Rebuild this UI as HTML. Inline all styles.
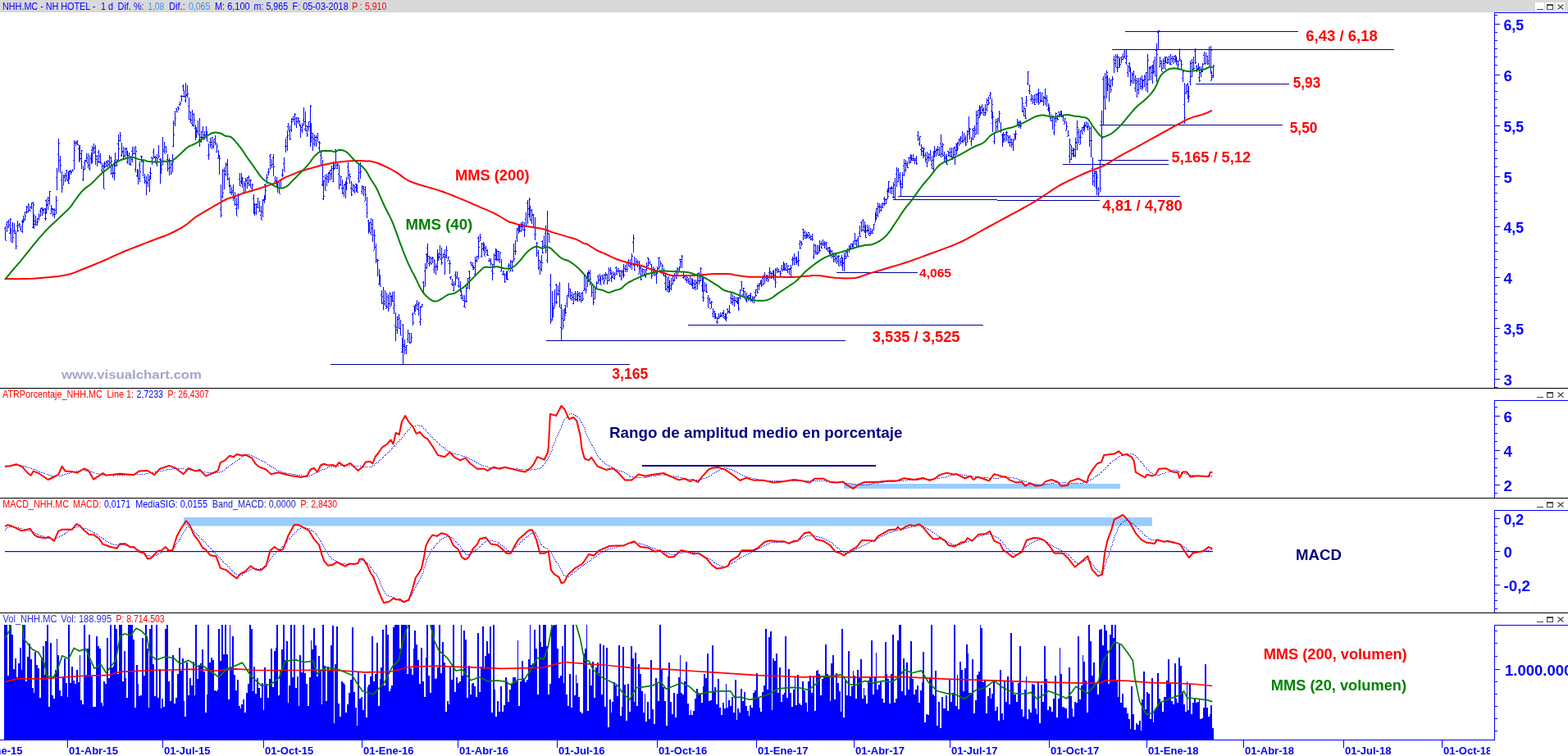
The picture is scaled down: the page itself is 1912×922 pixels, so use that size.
<!DOCTYPE html>
<html><head><meta charset="utf-8"><title>NHH.MC - NH HOTEL</title>
<style>
html,body{margin:0;padding:0;background:#fff;}
body{width:1912px;height:922px;overflow:hidden;position:relative;}
svg{position:absolute;left:0;top:0;display:block;}
text{font-family:"Liberation Sans",Arial,sans-serif;}
.hd{font-size:12px;}
.ax{font-size:18.5px;font-weight:bold;fill:#0000ff;}
.lb{font-size:18px;font-weight:bold;}
.dt{font-size:13px;font-weight:bold;fill:#0000ff;}
</style></head><body>
<svg width="1912" height="922" viewBox="0 0 1912 922">

<rect x="0" y="0" width="1912" height="14" fill="#d9d9d9"/>
<rect x="0" y="14" width="1822" height="1" fill="#d2d2d2"/><rect x="1822" y="14" width="90" height="1" fill="#e6e6d6"/>
<text x="3" y="12" class="hd" fill="#0000ff" textLength="113.5" lengthAdjust="spacingAndGlyphs">NHH.MC - NH HOTEL -</text>
<text x="123" y="12" class="hd" fill="#0000ff" textLength="15" lengthAdjust="spacingAndGlyphs">1 d</text>
<text x="143.6" y="12" class="hd" fill="#0000ff" textLength="32" lengthAdjust="spacingAndGlyphs">Dif. %:</text>
<text x="180.2" y="12" class="hd" fill="#3c96ec" textLength="20" lengthAdjust="spacingAndGlyphs">1,08</text>
<text x="206" y="12" class="hd" fill="#0000ff" textLength="19.8" lengthAdjust="spacingAndGlyphs">Dif.:</text>
<text x="230" y="12" class="hd" fill="#3c96ec" textLength="26.3" lengthAdjust="spacingAndGlyphs">0,065</text>
<text x="261.9" y="12" class="hd" fill="#0000ff" textLength="42.8" lengthAdjust="spacingAndGlyphs">M: 6,100</text>
<text x="309.6" y="12" class="hd" fill="#0000ff" textLength="41.5" lengthAdjust="spacingAndGlyphs">m: 5,965</text>
<text x="356.5" y="12" class="hd" fill="#0000ff" textLength="68.2" lengthAdjust="spacingAndGlyphs">F: 05-03-2018</text>
<text x="429.3" y="12" class="hd" fill="#ff0000" textLength="42" lengthAdjust="spacingAndGlyphs">P : 5,910</text>
<g fill="#fff"><rect x="1872" y="3" width="11" height="10"/><rect x="1884" y="3" width="11" height="10"/><rect x="1897" y="3" width="11" height="10"/></g>
<g fill="none" stroke="#454545" stroke-width="1" shape-rendering="crispEdges"><path d="M1874 11.5h8"/><rect x="1886.5" y="5.5" width="7" height="6"/><path d="M1886 6.5h8"/></g><path d="M1899.5 5.5l7 6M1906.5 5.5l-7 6" stroke="#454545" stroke-width="1.2" fill="none"/>
<g fill="none" stroke="#454545" stroke-width="1" shape-rendering="crispEdges"><path d="M1874 484.5h8"/><rect x="1886.5" y="478.5" width="7" height="6"/><path d="M1886 479.5h8"/></g><path d="M1899.5 478.5l7 6M1906.5 478.5l-7 6" stroke="#454545" stroke-width="1.2" fill="none"/>
<g fill="none" stroke="#454545" stroke-width="1" shape-rendering="crispEdges"><path d="M1874 618.5h8"/><rect x="1886.5" y="612.5" width="7" height="6"/><path d="M1886 613.5h8"/></g><path d="M1899.5 612.5l7 6M1906.5 612.5l-7 6" stroke="#454545" stroke-width="1.2" fill="none"/>
<g fill="none" stroke="#454545" stroke-width="1" shape-rendering="crispEdges"><path d="M1874 758.5h8"/><rect x="1886.5" y="752.5" width="7" height="6"/><path d="M1886 753.5h8"/></g><path d="M1899.5 752.5l7 6M1906.5 752.5l-7 6" stroke="#454545" stroke-width="1.2" fill="none"/>
<g fill="#000" shape-rendering="crispEdges"><rect x="0" y="473" width="1912" height="1"/><rect x="0" y="607" width="1912" height="1"/><rect x="0" y="747" width="1912" height="1"/></g>
<g fill="#0000ff" shape-rendering="crispEdges"><rect x="1822" y="15" width="90" height="1"/><rect x="1822" y="15" width="1" height="458"/><rect x="1822" y="472" width="4" height="1"/><rect x="1822" y="488" width="90" height="1"/><rect x="1822" y="488" width="1" height="119"/><rect x="1822" y="622" width="90" height="1"/><rect x="1822" y="622" width="1" height="125"/><rect x="1822" y="762" width="90" height="1"/><rect x="1822" y="762" width="1" height="141"/><rect x="0" y="902" width="1823" height="1"/></g>
<path d="M1822 29.5h7M1822 91.5h7M1822 153.5h7M1822 215.5h7M1822 276.5h7M1822 338.5h7M1822 400.5h7M1822 462.5h7M1822 18.5h4M1822 39.5h4M1822 49.5h4M1822 59.5h4M1822 69.5h4M1822 79.5h4M1822 101.5h4M1822 111.5h4M1822 121.5h4M1822 131.5h4M1822 141.5h4M1822 163.5h4M1822 173.5h4M1822 183.5h4M1822 193.5h4M1822 203.5h4M1822 225.5h4M1822 235.5h4M1822 245.5h4M1822 255.5h4M1822 265.5h4M1822 286.5h4M1822 296.5h4M1822 306.5h4M1822 316.5h4M1822 326.5h4M1822 348.5h4M1822 358.5h4M1822 368.5h4M1822 378.5h4M1822 388.5h4M1822 410.5h4M1822 420.5h4M1822 430.5h4M1822 440.5h4M1822 450.5h4M1822 472.5h4M1822 507.5h7M1822 549.5h7M1822 591.5h7M1822 496.5h4M1822 517.5h4M1822 528.5h4M1822 538.5h4M1822 559.5h4M1822 570.5h4M1822 580.5h4M1822 601.5h4M1822 632.5h7M1822 672.5h7M1822 713.5h7M1822 642.5h4M1822 652.5h4M1822 662.5h4M1822 682.5h4M1822 692.5h4M1822 702.5h4M1822 723.5h4M1822 732.5h4M1822 742.5h4M1822 816.5h7M1822 769.5h4M1822 784.5h4M1822 800.5h4M1822 831.5h4M1822 846.5h4M1822 861.5h4M1822 876.5h4M1822 891.5h4" stroke="#0000ff" stroke-width="1" fill="none" shape-rendering="crispEdges"/>
<text x="1833.5" y="36.6" class="ax" textLength="24.6" lengthAdjust="spacingAndGlyphs">6,5</text>
<text x="1833.5" y="98.6" class="ax" textLength="10.4" lengthAdjust="spacingAndGlyphs">6</text>
<text x="1833.5" y="160.6" class="ax" textLength="24.6" lengthAdjust="spacingAndGlyphs">5,5</text>
<text x="1833.5" y="222.6" class="ax" textLength="10.4" lengthAdjust="spacingAndGlyphs">5</text>
<text x="1833.5" y="283.6" class="ax" textLength="24.6" lengthAdjust="spacingAndGlyphs">4,5</text>
<text x="1833.5" y="345.6" class="ax" textLength="10.4" lengthAdjust="spacingAndGlyphs">4</text>
<text x="1833.5" y="407.6" class="ax" textLength="24.6" lengthAdjust="spacingAndGlyphs">3,5</text>
<text x="1833.5" y="469.6" class="ax" textLength="10.4" lengthAdjust="spacingAndGlyphs">3</text>
<text x="1833.5" y="514.6" class="ax" textLength="10.4" lengthAdjust="spacingAndGlyphs">6</text>
<text x="1833.5" y="556.6" class="ax" textLength="10.4" lengthAdjust="spacingAndGlyphs">4</text>
<text x="1833.5" y="598.6" class="ax" textLength="10.4" lengthAdjust="spacingAndGlyphs">2</text>
<text x="1833.5" y="639.6" class="ax" textLength="24.6" lengthAdjust="spacingAndGlyphs">0,2</text>
<text x="1833.5" y="679.6" class="ax" textLength="10.4" lengthAdjust="spacingAndGlyphs">0</text>
<text x="1833.5" y="720.6" class="ax" textLength="32.6" lengthAdjust="spacingAndGlyphs">-0,2</text>
<text class="ax" x="1835" y="823.5">1.000.000</text>
<g fill="#000096" shape-rendering="crispEdges"><rect x="1372" y="38" width="211" height="1"/><rect x="1356" y="60" width="344" height="1"/><rect x="1458" y="102" width="114" height="1"/><rect x="1341" y="152" width="223" height="1"/><rect x="1339" y="195" width="86" height="1"/><rect x="1296" y="200" width="129" height="1"/><rect x="1095" y="239" width="344" height="1"/><rect x="1089" y="243" width="127" height="1"/><rect x="1216" y="244" width="125" height="1"/><rect x="1020" y="332" width="99" height="1"/><rect x="839" y="396" width="360" height="1"/><rect x="666" y="415" width="365" height="1"/><rect x="403" y="444" width="365" height="1"/></g>
<path d="M6.5 276v17M5 278.5h1M7 293.5h1M8.5 270v13M7 273.5h1M9 270.5h1M10.5 268v10M9 276.5h1M11 274.5h1M12.5 266v19M11 284.5h1M13 267.5h1M13.5 278v17M12 279.5h1M14 295.5h1M15.5 271v25M14 274.5h1M16 289.5h1M17.5 272v13M16 281.5h1M18 281.5h1M19.5 282v22M18 284.5h1M20 300.5h1M21.5 269v14M20 275.5h1M22 281.5h1M23.5 272v6M22 274.5h1M24 273.5h1M25.5 275v7M24 279.5h1M26 282.5h1M27.5 268v16M26 270.5h1M28 271.5h1M28.5 263v8M27 270.5h1M29 269.5h1M30.5 258v11M29 267.5h1M31 263.5h1M32.5 251v10M31 258.5h1M33 252.5h1M34.5 248v11M33 258.5h1M35 249.5h1M36.5 251v6M35 256.5h1M37 257.5h1M38.5 247v8M37 252.5h1M39 247.5h1M40.5 246v32M39 277.5h1M41 249.5h1M41.5 261v18M40 273.5h1M42 273.5h1M43.5 263v12M42 269.5h1M44 271.5h1M45.5 266v9M44 274.5h1M46 270.5h1M47.5 260v9M46 266.5h1M48 263.5h1M49.5 254v10M48 257.5h1M50 254.5h1M51.5 253v10M50 253.5h1M52 255.5h1M53.5 254v7M52 256.5h1M54 254.5h1M55.5 254v15M54 266.5h1M56 266.5h1M56.5 243v18M55 244.5h1M57 249.5h1M58.5 240v16M57 250.5h1M59 241.5h1M60.5 233v17M59 244.5h1M61 233.5h1M62.5 250v11M61 260.5h1M63 254.5h1M64.5 254v10M63 255.5h1M65 261.5h1M66.5 254v12M65 255.5h1M67 256.5h1M68.5 239v22M67 261.5h1M69 244.5h1M69.5 205v27M68 216.5h1M70 209.5h1M71.5 169v40M70 188.5h1M72 174.5h1M73.5 190v21M72 195.5h1M74 201.5h1M75.5 209v26M74 219.5h1M76 229.5h1M77.5 213v13M76 226.5h1M78 216.5h1M79.5 211v11M78 214.5h1M80 214.5h1M81.5 207v13M80 207.5h1M82 219.5h1M83.5 209v15M82 220.5h1M84 223.5h1M84.5 208v11M83 213.5h1M85 209.5h1M86.5 207v6M85 208.5h1M87 210.5h1M88.5 206v3M87 209.5h1M89 208.5h1M90.5 171v36M89 195.5h1M91 183.5h1M92.5 172v6M91 174.5h1M93 172.5h1M94.5 171v6M93 174.5h1M95 176.5h1M96.5 177v21M95 181.5h1M97 177.5h1M97.5 178v18M96 182.5h1M98 193.5h1M99.5 183v23M98 187.5h1M100 183.5h1M101.5 202v19M100 218.5h1M102 206.5h1M103.5 195v12M102 198.5h1M104 195.5h1M105.5 187v11M104 196.5h1M106 192.5h1M107.5 187v18M106 198.5h1M108 201.5h1M109.5 189v19M108 205.5h1M110 193.5h1M111.5 186v14M110 193.5h1M112 198.5h1M112.5 178v21M111 183.5h1M113 182.5h1M114.5 175v13M113 180.5h1M115 185.5h1M116.5 177v24M115 180.5h1M117 194.5h1M118.5 189v14M117 190.5h1M119 197.5h1M120.5 183v16M119 185.5h1M121 197.5h1M122.5 187v13M121 190.5h1M123 198.5h1M124.5 199v11M123 207.5h1M125 202.5h1M126.5 201v29M125 209.5h1M127 230.5h1M127.5 197v8M126 199.5h1M128 203.5h1M129.5 196v7M128 199.5h1M130 202.5h1M131.5 195v9M130 197.5h1M132 200.5h1M133.5 189v15M132 196.5h1M134 192.5h1M135.5 191v22M134 198.5h1M136 196.5h1M137.5 200v17M136 211.5h1M138 210.5h1M139.5 197v23M138 211.5h1M140 211.5h1M140.5 186v17M139 195.5h1M141 202.5h1M142.5 194v9M141 197.5h1M143 195.5h1M144.5 164v31M143 175.5h1M145 181.5h1M146.5 161v12M145 171.5h1M147 165.5h1M148.5 174v17M147 189.5h1M149 184.5h1M150.5 179v14M149 185.5h1M151 193.5h1M152.5 180v12M151 190.5h1M153 181.5h1M154.5 180v10M153 181.5h1M155 184.5h1M155.5 184v16M154 197.5h1M156 192.5h1M157.5 186v15M156 189.5h1M158 191.5h1M159.5 190v12M158 200.5h1M160 194.5h1M161.5 179v19M160 184.5h1M162 187.5h1M163.5 179v9M162 187.5h1M164 187.5h1M165.5 178v32M164 206.5h1M166 184.5h1M167.5 206v10M166 214.5h1M168 212.5h1M168.5 207v18M167 214.5h1M169 217.5h1M170.5 197v25M169 201.5h1M171 209.5h1M172.5 190v8M171 190.5h1M173 191.5h1M174.5 195v20M173 196.5h1M175 197.5h1M176.5 212v12M175 216.5h1M177 221.5h1M178.5 215v23M177 220.5h1M179 223.5h1M180.5 212v16M179 222.5h1M181 219.5h1M182.5 214v20M181 219.5h1M183 214.5h1M183.5 204v15M182 210.5h1M184 211.5h1M185.5 191v10M184 192.5h1M186 193.5h1M187.5 181v12M186 185.5h1M188 191.5h1M189.5 190v9M188 192.5h1M190 199.5h1M191.5 188v15M190 192.5h1M192 197.5h1M193.5 177v16M192 193.5h1M194 190.5h1M195.5 193v31M194 194.5h1M196 207.5h1M196.5 194v18M195 197.5h1M197 206.5h1M198.5 167v34M197 201.5h1M199 182.5h1M200.5 173v14M199 184.5h1M201 187.5h1M202.5 178v8M201 179.5h1M203 185.5h1M204.5 188v21M203 194.5h1M205 195.5h1M206.5 193v21M205 205.5h1M207 195.5h1M208.5 198v15M207 204.5h1M209 200.5h1M210.5 188v22M209 210.5h1M211 197.5h1M211.5 147v32M210 178.5h1M212 164.5h1M213.5 135v19M212 150.5h1M214 144.5h1M215.5 132v5M214 132.5h1M216 136.5h1M217.5 130v5M216 130.5h1M218 132.5h1M219.5 124v5M218 127.5h1M220 126.5h1M221.5 116v8M220 117.5h1M222 117.5h1M223.5 103v8M222 105.5h1M224 111.5h1M224.5 110v9M223 117.5h1M225 117.5h1M226.5 101v24M225 122.5h1M227 115.5h1M228.5 104v15M227 116.5h1M229 114.5h1M230.5 119v27M229 129.5h1M231 145.5h1M232.5 136v14M231 136.5h1M233 150.5h1M234.5 134v20M233 146.5h1M235 152.5h1M236.5 138v17M235 139.5h1M237 146.5h1M238.5 152v19M237 156.5h1M239 159.5h1M239.5 155v13M238 167.5h1M240 160.5h1M241.5 147v17M240 159.5h1M242 164.5h1M243.5 144v35M242 170.5h1M244 172.5h1M245.5 160v14M244 167.5h1M246 160.5h1M247.5 154v16M246 167.5h1M248 164.5h1M249.5 160v10M248 170.5h1M250 164.5h1M251.5 154v12M250 164.5h1M252 160.5h1M252.5 160v12M251 168.5h1M253 172.5h1M254.5 175v20M253 189.5h1M255 188.5h1M256.5 168v12M255 173.5h1M257 176.5h1M258.5 167v15M257 173.5h1M259 167.5h1M260.5 170v11M259 178.5h1M261 173.5h1M262.5 165v12M261 169.5h1M263 174.5h1M264.5 175v11M263 185.5h1M265 178.5h1M266.5 183v10M265 193.5h1M267 190.5h1M267.5 189v24M266 189.5h1M268 193.5h1M269.5 225v40M268 255.5h1M270 262.5h1M271.5 206v36M270 239.5h1M272 235.5h1M273.5 204v27M272 208.5h1M274 208.5h1M275.5 198v17M274 212.5h1M276 200.5h1M277.5 194v26M276 201.5h1M278 212.5h1M279.5 216v12M278 218.5h1M280 226.5h1M280.5 225v11M279 226.5h1M281 226.5h1M282.5 228v10M281 234.5h1M283 232.5h1M284.5 225v20M283 234.5h1M285 239.5h1M286.5 234v17M285 241.5h1M287 249.5h1M288.5 241v22M287 254.5h1M289 263.5h1M290.5 236v19M289 249.5h1M291 238.5h1M292.5 211v16M291 218.5h1M293 226.5h1M294.5 211v13M293 221.5h1M295 217.5h1M295.5 216v13M294 224.5h1M296 217.5h1M297.5 221v13M296 234.5h1M298 224.5h1M299.5 217v17M298 226.5h1M300 220.5h1M301.5 216v14M300 219.5h1M302 223.5h1M303.5 214v13M302 216.5h1M304 220.5h1M305.5 219v10M304 225.5h1M306 219.5h1M307.5 224v10M306 229.5h1M308 225.5h1M309.5 237v23M308 242.5h1M310 257.5h1M310.5 248v15M309 260.5h1M311 259.5h1M312.5 248v14M311 249.5h1M313 252.5h1M314.5 241v13M313 249.5h1M315 253.5h1M316.5 245v13M315 258.5h1M317 257.5h1M318.5 251v17M317 262.5h1M319 268.5h1M320.5 243v22M319 258.5h1M321 243.5h1M322.5 238v10M321 244.5h1M323 238.5h1M323.5 224v20M322 225.5h1M324 232.5h1M325.5 212v12M324 217.5h1M326 216.5h1M327.5 205v9M326 210.5h1M328 209.5h1M329.5 188v19M328 190.5h1M330 188.5h1M331.5 194v11M330 201.5h1M332 200.5h1M333.5 188v27M332 192.5h1M334 203.5h1M335.5 215v6M334 221.5h1M336 220.5h1M337.5 216v10M336 221.5h1M338 223.5h1M338.5 223v12M337 226.5h1M339 229.5h1M340.5 221v15M339 222.5h1M341 236.5h1M342.5 218v11M341 219.5h1M343 219.5h1M344.5 206v10M343 213.5h1M345 213.5h1M346.5 192v17M345 199.5h1M347 209.5h1M348.5 169v17M347 178.5h1M349 178.5h1M350.5 159v25M349 167.5h1M351 165.5h1M351.5 150v9M350 154.5h1M352 159.5h1M353.5 153v18M352 160.5h1M354 169.5h1M355.5 144v17M354 158.5h1M356 145.5h1M357.5 142v6M356 148.5h1M358 145.5h1M359.5 138v15M358 141.5h1M360 139.5h1M361.5 143v13M360 144.5h1M362 148.5h1M363.5 143v8M362 143.5h1M364 144.5h1M365.5 147v7M364 147.5h1M366 152.5h1M366.5 152v16M365 153.5h1M367 158.5h1M368.5 150v12M367 155.5h1M369 152.5h1M370.5 131v22M369 146.5h1M371 148.5h1M372.5 136v24M371 157.5h1M373 153.5h1M374.5 153v14M373 159.5h1M375 164.5h1M376.5 148v12M375 154.5h1M377 148.5h1M378.5 128v51M377 154.5h1M379 129.5h1M379.5 150v24M378 156.5h1M380 162.5h1M381.5 162v22M380 167.5h1M382 175.5h1M383.5 164v14M382 169.5h1M384 171.5h1M385.5 165v14M384 167.5h1M386 175.5h1M387.5 162v11M386 167.5h1M388 173.5h1M389.5 172v13M388 180.5h1M390 174.5h1M391.5 183v18M390 189.5h1M392 192.5h1M393.5 195v32M392 225.5h1M394 215.5h1M394.5 220v24M393 242.5h1M395 239.5h1M396.5 213v19M395 220.5h1M397 232.5h1M398.5 212v15M397 217.5h1M399 218.5h1M400.5 210v13M399 215.5h1M401 211.5h1M402.5 207v13M401 210.5h1M403 207.5h1M404.5 202v17M403 212.5h1M405 205.5h1M406.5 197v25M405 221.5h1M407 206.5h1M407.5 200v6M406 203.5h1M408 205.5h1M409.5 182v23M408 182.5h1M410 201.5h1M411.5 198v8M410 205.5h1M412 200.5h1M413.5 201v30M412 212.5h1M414 214.5h1M415.5 215v12M414 225.5h1M416 215.5h1M417.5 219v18M416 229.5h1M418 235.5h1M419.5 225v15M418 229.5h1M420 225.5h1M421.5 221v21M420 224.5h1M422 227.5h1M422.5 216v16M421 221.5h1M423 223.5h1M424.5 198v21M423 203.5h1M425 208.5h1M426.5 211v13M425 213.5h1M427 215.5h1M428.5 221v18M427 229.5h1M429 237.5h1M430.5 224v10M429 230.5h1M431 226.5h1M432.5 226v10M431 232.5h1M433 228.5h1M434.5 224v10M433 224.5h1M435 234.5h1M435.5 225v9M434 233.5h1M436 234.5h1M437.5 200v23M436 217.5h1M438 220.5h1M439.5 198v20M438 210.5h1M440 209.5h1M441.5 226v11M440 233.5h1M442 229.5h1M443.5 227v12M442 227.5h1M444 231.5h1M445.5 227v18M444 245.5h1M446 237.5h1M447.5 240v26M446 249.5h1M448 259.5h1M449.5 268v17M448 269.5h1M450 272.5h1M450.5 271v12M449 271.5h1M451 271.5h1M452.5 266v21M451 283.5h1M453 273.5h1M454.5 267v28M453 278.5h1M455 286.5h1M456.5 280v25M455 305.5h1M457 287.5h1M458.5 297v24M457 301.5h1M459 318.5h1M460.5 316v21M459 316.5h1M461 317.5h1M462.5 328v19M461 346.5h1M463 342.5h1M463.5 335v14M462 337.5h1M464 349.5h1M465.5 354v17M464 359.5h1M466 361.5h1M467.5 350v28M466 369.5h1M468 367.5h1M469.5 354v19M468 370.5h1M470 373.5h1M471.5 357v19M470 376.5h1M472 362.5h1M473.5 359v21M472 374.5h1M474 376.5h1M475.5 356v19M474 370.5h1M476 358.5h1M477.5 360v13M476 361.5h1M478 364.5h1M478.5 356v12M477 367.5h1M479 367.5h1M480.5 355v28M479 375.5h1M481 372.5h1M482.5 381v35M481 397.5h1M483 399.5h1M484.5 386v21M483 402.5h1M485 386.5h1M486.5 383v18M485 389.5h1M487 388.5h1M488.5 390v19M487 400.5h1M489 409.5h1M490.5 412v18M489 429.5h1M491 427.5h1M491.5 395v50M490 396.5h1M492 422.5h1M493.5 414v18M492 420.5h1M494 426.5h1M495.5 421v11M494 423.5h1M496 421.5h1M497.5 402v16M496 413.5h1M498 406.5h1M499.5 406v13M498 406.5h1M500 417.5h1M501.5 406v12M500 418.5h1M502 411.5h1M503.5 381v16M502 383.5h1M504 393.5h1M505.5 373v10M504 373.5h1M506 383.5h1M506.5 371v9M505 378.5h1M507 372.5h1M508.5 366v12M507 370.5h1M509 371.5h1M510.5 368v17M509 377.5h1M511 369.5h1M512.5 373v24M511 392.5h1M513 389.5h1M514.5 371v4M513 374.5h1M515 371.5h1M516.5 343v16M515 344.5h1M517 349.5h1M518.5 321v28M517 330.5h1M519 326.5h1M520.5 309v19M519 310.5h1M521 309.5h1M521.5 297v23M520 302.5h1M522 312.5h1M523.5 312v13M522 321.5h1M524 314.5h1M525.5 313v10M524 320.5h1M526 315.5h1M527.5 313v8M526 321.5h1M528 314.5h1M529.5 316v17M528 328.5h1M530 318.5h1M531.5 321v14M530 325.5h1M532 325.5h1M533.5 304v26M532 324.5h1M534 311.5h1M534.5 309v9M533 318.5h1M535 309.5h1M536.5 299v17M535 313.5h1M537 316.5h1M538.5 302v21M537 310.5h1M539 320.5h1M540.5 309v5M539 314.5h1M541 310.5h1M542.5 304v31M541 313.5h1M543 313.5h1M544.5 300v15M543 311.5h1M545 305.5h1M546.5 313v5M545 318.5h1M547 313.5h1M548.5 317v17M547 321.5h1M549 321.5h1M549.5 337v4M548 338.5h1M550 337.5h1M551.5 340v9M550 346.5h1M552 347.5h1M553.5 343v12M552 354.5h1M554 346.5h1M555.5 331v17M554 335.5h1M556 339.5h1M557.5 331v9M556 337.5h1M558 340.5h1M559.5 338v13M558 348.5h1M560 349.5h1M561.5 343v13M560 352.5h1M562 356.5h1M562.5 354v11M561 360.5h1M563 359.5h1M564.5 360v7M563 363.5h1M565 366.5h1M566.5 360v15M565 373.5h1M567 375.5h1M568.5 346v23M567 367.5h1M569 367.5h1M570.5 339v13M569 351.5h1M571 339.5h1M572.5 330v23M571 331.5h1M573 338.5h1M574.5 319v5M573 320.5h1M575 323.5h1M576.5 320v7M575 323.5h1M577 327.5h1M577.5 324v5M576 328.5h1M578 326.5h1M579.5 313v22M578 334.5h1M580 318.5h1M581.5 312v8M580 317.5h1M582 312.5h1M583.5 288v28M582 290.5h1M584 301.5h1M585.5 285v9M584 294.5h1M586 289.5h1M587.5 296v18M586 312.5h1M588 303.5h1M589.5 295v11M588 297.5h1M590 297.5h1M590.5 297v15M589 303.5h1M591 312.5h1M592.5 300v9M591 302.5h1M593 305.5h1M594.5 304v8M593 310.5h1M595 311.5h1M596.5 315v4M595 318.5h1M597 317.5h1M598.5 315v9M597 319.5h1M599 321.5h1M600.5 322v20M599 330.5h1M601 333.5h1M602.5 309v18M601 322.5h1M603 311.5h1M604.5 303v13M603 316.5h1M605 309.5h1M605.5 304v14M604 316.5h1M606 306.5h1M607.5 306v13M606 316.5h1M608 306.5h1M609.5 307v14M608 316.5h1M610 308.5h1M611.5 316v15M610 330.5h1M612 327.5h1M613.5 330v6M612 334.5h1M614 331.5h1M615.5 333v12M614 334.5h1M616 343.5h1M617.5 331v10M616 335.5h1M618 334.5h1M618.5 330v12M617 337.5h1M619 340.5h1M620.5 321v9M619 324.5h1M621 323.5h1M622.5 317v14M621 331.5h1M623 319.5h1M624.5 317v14M623 326.5h1M625 330.5h1M626.5 297v22M625 319.5h1M627 315.5h1M628.5 293v18M627 306.5h1M629 306.5h1M630.5 278v17M629 289.5h1M631 278.5h1M632.5 275v10M631 280.5h1M633 276.5h1M633.5 273v10M632 273.5h1M634 276.5h1M635.5 271v12M634 281.5h1M636 276.5h1M637.5 270v11M636 273.5h1M638 274.5h1M639.5 271v18M638 280.5h1M640 280.5h1M641.5 259v16M640 267.5h1M642 275.5h1M643.5 244v29M642 247.5h1M644 254.5h1M645.5 241v24M644 261.5h1M646 243.5h1M646.5 251v18M645 263.5h1M647 268.5h1M648.5 255v18M647 256.5h1M649 261.5h1M650.5 261v16M649 262.5h1M651 277.5h1M652.5 265v28M651 285.5h1M653 286.5h1M654.5 295v18M653 301.5h1M655 296.5h1M656.5 305v24M655 308.5h1M657 326.5h1M658.5 317v18M657 317.5h1M659 328.5h1M660.5 311v20M659 319.5h1M661 320.5h1M661.5 293v16M660 294.5h1M662 308.5h1M663.5 287v16M662 300.5h1M664 299.5h1M665.5 275v34M664 284.5h1M666 305.5h1M667.5 257v64M666 317.5h1M668 284.5h1M669.5 285v10M668 285.5h1M670 295.5h1M671.5 334v61M670 347.5h1M672 389.5h1M673.5 355v36M672 391.5h1M674 370.5h1M674.5 372v15M673 383.5h1M675 376.5h1M676.5 353v22M675 375.5h1M677 368.5h1M678.5 346v25M677 347.5h1M679 368.5h1M680.5 348v13M679 358.5h1M681 358.5h1M682.5 344v31M681 354.5h1M683 375.5h1M684.5 371v44M683 399.5h1M685 401.5h1M686.5 377v24M685 388.5h1M687 397.5h1M688.5 376v15M687 390.5h1M689 384.5h1M689.5 372v11M688 372.5h1M690 381.5h1M691.5 360v15M690 370.5h1M692 360.5h1M693.5 345v18M692 358.5h1M694 352.5h1M695.5 352v13M694 355.5h1M696 364.5h1M697.5 356v11M696 360.5h1M698 362.5h1M699.5 358v13M698 370.5h1M700 358.5h1M701.5 355v12M700 364.5h1M702 357.5h1M703.5 358v9M702 365.5h1M704 363.5h1M704.5 355v13M703 361.5h1M705 358.5h1M706.5 356v11M705 360.5h1M707 365.5h1M708.5 357v12M707 361.5h1M709 366.5h1M710.5 356v11M709 357.5h1M711 364.5h1M712.5 336v19M711 354.5h1M713 352.5h1M714.5 337v21M713 352.5h1M715 353.5h1M716.5 333v17M715 338.5h1M717 342.5h1M717.5 330v14M716 332.5h1M718 333.5h1M719.5 329v19M718 332.5h1M720 340.5h1M721.5 345v17M720 345.5h1M722 356.5h1M723.5 350v22M722 356.5h1M724 368.5h1M725.5 352v13M724 364.5h1M726 356.5h1M727.5 343v9M726 352.5h1M728 345.5h1M729.5 335v11M728 337.5h1M730 341.5h1M731.5 334v10M730 341.5h1M732 341.5h1M732.5 337v10M731 346.5h1M733 347.5h1M734.5 335v7M733 336.5h1M735 339.5h1M736.5 334v13M735 344.5h1M737 342.5h1M738.5 332v9M737 335.5h1M739 335.5h1M740.5 334v13M739 334.5h1M741 342.5h1M742.5 326v17M741 342.5h1M743 341.5h1M744.5 326v9M743 329.5h1M745 330.5h1M745.5 332v12M744 339.5h1M746 337.5h1M747.5 331v8M746 338.5h1M748 334.5h1M749.5 332v9M748 339.5h1M750 335.5h1M751.5 325v10M750 326.5h1M752 334.5h1M753.5 327v6M752 330.5h1M754 327.5h1M755.5 329v9M754 330.5h1M756 336.5h1M757.5 329v13M756 330.5h1M758 339.5h1M759.5 329v8M758 331.5h1M760 336.5h1M760.5 322v17M759 330.5h1M761 335.5h1M762.5 323v9M761 327.5h1M763 328.5h1M764.5 321v11M763 328.5h1M765 328.5h1M766.5 316v9M765 319.5h1M767 324.5h1M768.5 317v10M767 320.5h1M769 322.5h1M770.5 309v20M769 316.5h1M771 312.5h1M772.5 286v22M771 295.5h1M773 290.5h1M773.5 313v17M772 323.5h1M774 329.5h1M775.5 315v8M774 323.5h1M776 319.5h1M777.5 317v9M776 323.5h1M778 320.5h1M779.5 318v16M778 334.5h1M780 325.5h1M781.5 325v17M780 327.5h1M782 340.5h1M783.5 327v9M782 330.5h1M784 336.5h1M785.5 328v9M784 328.5h1M786 336.5h1M787.5 328v11M786 335.5h1M788 329.5h1M788.5 320v10M787 330.5h1M789 324.5h1M790.5 314v11M789 314.5h1M791 316.5h1M792.5 318v4M791 320.5h1M793 322.5h1M794.5 322v18M793 333.5h1M795 329.5h1M796.5 325v11M795 336.5h1M797 331.5h1M798.5 327v10M797 328.5h1M799 334.5h1M800.5 330v16M799 334.5h1M801 330.5h1M801.5 325v9M800 334.5h1M802 327.5h1M803.5 314v15M802 314.5h1M804 314.5h1M805.5 318v7M804 325.5h1M806 321.5h1M807.5 322v11M806 333.5h1M808 324.5h1M809.5 327v10M808 334.5h1M810 336.5h1M811.5 333v21M810 345.5h1M812 337.5h1M813.5 338v18M812 352.5h1M814 350.5h1M815.5 337v20M814 349.5h1M816 350.5h1M816.5 342v14M815 342.5h1M817 348.5h1M818.5 339v15M817 351.5h1M819 346.5h1M820.5 337v10M819 346.5h1M821 342.5h1M822.5 333v10M821 341.5h1M823 335.5h1M824.5 329v11M823 335.5h1M825 339.5h1M826.5 326v9M825 327.5h1M827 331.5h1M828.5 325v6M827 328.5h1M829 331.5h1M829.5 316v11M828 316.5h1M830 316.5h1M831.5 311v16M830 319.5h1M832 312.5h1M833.5 332v8M832 338.5h1M834 335.5h1M835.5 335v7M834 337.5h1M836 336.5h1M837.5 337v8M836 341.5h1M838 338.5h1M839.5 339v7M838 341.5h1M840 346.5h1M841.5 337v10M840 343.5h1M842 346.5h1M843.5 339v9M842 346.5h1M844 348.5h1M844.5 340v12M843 348.5h1M845 351.5h1M846.5 341v12M845 345.5h1M847 350.5h1M848.5 341v13M847 346.5h1M849 344.5h1M850.5 333v20M849 345.5h1M851 333.5h1M852.5 332v15M851 342.5h1M853 342.5h1M854.5 326v17M853 335.5h1M855 327.5h1M856.5 334v22M855 348.5h1M857 355.5h1M857.5 339v29M856 362.5h1M858 363.5h1M859.5 344v11M858 354.5h1M860 355.5h1M861.5 346v11M860 348.5h1M862 356.5h1M863.5 360v15M862 363.5h1M864 375.5h1M865.5 363v8M864 365.5h1M866 369.5h1M867.5 367v9M866 376.5h1M868 368.5h1M869.5 376v11M868 382.5h1M870 380.5h1M871.5 379v8M870 386.5h1M872 386.5h1M872.5 382v7M871 388.5h1M873 387.5h1M874.5 386v9M873 392.5h1M875 393.5h1M876.5 382v7M875 388.5h1M877 385.5h1M878.5 381v6M877 387.5h1M879 385.5h1M880.5 381v6M879 384.5h1M881 381.5h1M882.5 378v10M881 382.5h1M883 386.5h1M884.5 382v8M883 388.5h1M885 390.5h1M885.5 382v10M884 389.5h1M886 387.5h1M887.5 376v7M886 377.5h1M888 379.5h1M889.5 372v10M888 380.5h1M890 381.5h1M891.5 357v14M890 363.5h1M892 364.5h1M893.5 359v13M892 368.5h1M894 364.5h1M895.5 361v13M894 366.5h1M896 366.5h1M897.5 362v7M896 366.5h1M898 367.5h1M899.5 362v9M898 368.5h1M900 364.5h1M900.5 363v16M899 369.5h1M901 376.5h1M902.5 353v12M901 362.5h1M903 354.5h1M904.5 343v11M903 343.5h1M905 354.5h1M906.5 351v10M905 359.5h1M907 351.5h1M908.5 355v10M907 355.5h1M909 365.5h1M910.5 357v12M909 366.5h1M911 361.5h1M912.5 360v7M911 362.5h1M913 363.5h1M914.5 359v7M913 360.5h1M915 359.5h1M915.5 357v11M914 364.5h1M916 366.5h1M917.5 361v8M916 366.5h1M918 363.5h1M919.5 361v9M918 365.5h1M920 362.5h1M921.5 353v9M920 356.5h1M922 360.5h1M923.5 347v11M922 353.5h1M924 356.5h1M925.5 345v9M924 348.5h1M926 348.5h1M927.5 342v5M926 346.5h1M928 343.5h1M928.5 341v9M927 345.5h1M929 347.5h1M930.5 336v12M929 339.5h1M931 346.5h1M932.5 332v14M931 336.5h1M933 338.5h1M934.5 335v8M933 338.5h1M935 336.5h1M936.5 335v9M935 339.5h1M937 341.5h1M938.5 326v14M937 332.5h1M939 331.5h1M940.5 332v8M939 333.5h1M941 338.5h1M942.5 330v9M941 333.5h1M943 337.5h1M943.5 329v12M942 334.5h1M944 341.5h1M945.5 327v24M944 335.5h1M946 344.5h1M947.5 326v7M946 329.5h1M948 328.5h1M949.5 328v4M948 331.5h1M950 331.5h1M951.5 330v7M950 337.5h1M952 333.5h1M953.5 323v8M952 327.5h1M954 330.5h1M955.5 319v11M954 328.5h1M956 327.5h1M956.5 321v9M955 322.5h1M957 329.5h1M958.5 321v9M957 327.5h1M959 321.5h1M960.5 323v10M959 329.5h1M961 324.5h1M962.5 327v8M961 328.5h1M963 328.5h1M964.5 323v14M963 327.5h1M965 326.5h1M966.5 313v11M965 316.5h1M967 317.5h1M968.5 309v14M967 315.5h1M969 322.5h1M970.5 313v8M969 315.5h1M971 317.5h1M971.5 313v10M970 318.5h1M972 319.5h1M973.5 306v19M972 318.5h1M974 317.5h1M975.5 293v11M974 297.5h1M976 302.5h1M977.5 294v6M976 295.5h1M978 297.5h1M979.5 279v14M978 279.5h1M980 287.5h1M981.5 281v10M980 283.5h1M982 290.5h1M983.5 283v8M982 287.5h1M984 289.5h1M984.5 285v5M983 290.5h1M985 287.5h1M986.5 283v8M985 283.5h1M987 286.5h1M988.5 287v6M987 289.5h1M989 288.5h1M990.5 285v9M989 291.5h1M991 291.5h1M992.5 297v19M991 313.5h1M993 299.5h1M994.5 298v12M993 306.5h1M995 309.5h1M996.5 299v12M995 307.5h1M997 299.5h1M998.5 300v9M997 308.5h1M999 302.5h1M999.5 293v14M998 306.5h1M1000 305.5h1M1001.5 294v9M1000 297.5h1M1002 302.5h1M1003.5 292v8M1002 297.5h1M1004 298.5h1M1005.5 294v9M1004 296.5h1M1006 296.5h1M1007.5 295v10M1006 298.5h1M1008 295.5h1M1009.5 301v6M1008 303.5h1M1010 302.5h1M1011.5 301v9M1010 306.5h1M1012 302.5h1M1012.5 304v9M1011 306.5h1M1013 306.5h1M1014.5 305v10M1013 306.5h1M1015 309.5h1M1016.5 308v12M1015 312.5h1M1017 312.5h1M1018.5 309v11M1017 316.5h1M1019 310.5h1M1020.5 311v11M1019 315.5h1M1021 313.5h1M1022.5 311v13M1021 318.5h1M1023 312.5h1M1024.5 315v9M1023 324.5h1M1025 319.5h1M1026.5 311v14M1025 314.5h1M1027 323.5h1M1027.5 314v16M1026 322.5h1M1028 321.5h1M1029.5 308v23M1028 320.5h1M1030 312.5h1M1031.5 305v11M1030 315.5h1M1032 313.5h1M1033.5 303v10M1032 307.5h1M1034 312.5h1M1035.5 299v9M1034 304.5h1M1036 302.5h1M1037.5 297v7M1036 300.5h1M1038 297.5h1M1039.5 297v6M1038 303.5h1M1040 302.5h1M1040.5 294v7M1039 297.5h1M1041 301.5h1M1042.5 284v14M1041 293.5h1M1043 293.5h1M1044.5 292v9M1043 298.5h1M1045 293.5h1M1046.5 288v13M1045 291.5h1M1047 299.5h1M1048.5 275v14M1047 284.5h1M1049 288.5h1M1050.5 270v13M1049 271.5h1M1051 280.5h1M1052.5 267v15M1051 269.5h1M1053 281.5h1M1054.5 270v14M1053 276.5h1M1055 274.5h1M1055.5 274v16M1054 280.5h1M1056 289.5h1M1057.5 274v10M1056 281.5h1M1058 280.5h1M1059.5 275v12M1058 281.5h1M1060 284.5h1M1061.5 278v9M1060 287.5h1M1062 282.5h1M1063.5 279v6M1062 284.5h1M1064 284.5h1M1065.5 273v8M1064 281.5h1M1066 273.5h1M1067.5 260v11M1066 271.5h1M1068 261.5h1M1068.5 254v14M1067 259.5h1M1069 262.5h1M1070.5 247v18M1069 254.5h1M1071 252.5h1M1072.5 248v12M1071 251.5h1M1073 252.5h1M1074.5 249v9M1073 256.5h1M1075 252.5h1M1076.5 247v7M1075 248.5h1M1077 248.5h1M1078.5 240v11M1077 242.5h1M1079 248.5h1M1080.5 242v7M1079 243.5h1M1081 243.5h1M1082.5 230v13M1081 233.5h1M1083 239.5h1M1083.5 221v14M1082 230.5h1M1084 221.5h1M1085.5 229v7M1084 229.5h1M1086 229.5h1M1087.5 227v10M1086 228.5h1M1088 229.5h1M1089.5 222v20M1088 240.5h1M1090 225.5h1M1091.5 217v26M1090 240.5h1M1092 243.5h1M1093.5 204v24M1092 212.5h1M1094 207.5h1M1095.5 205v17M1094 221.5h1M1096 216.5h1M1097.5 210v16M1096 213.5h1M1098 221.5h1M1098.5 220v19M1097 227.5h1M1099 228.5h1M1100.5 210v20M1099 224.5h1M1101 213.5h1M1102.5 194v21M1101 202.5h1M1103 199.5h1M1104.5 195v15M1103 207.5h1M1105 199.5h1M1106.5 197v8M1105 201.5h1M1107 204.5h1M1108.5 192v8M1107 192.5h1M1109 192.5h1M1110.5 188v11M1109 197.5h1M1111 194.5h1M1111.5 189v7M1110 196.5h1M1112 195.5h1M1113.5 188v8M1112 193.5h1M1114 193.5h1M1115.5 193v7M1114 195.5h1M1116 193.5h1M1117.5 190v11M1116 195.5h1M1118 199.5h1M1119.5 160v12M1118 165.5h1M1120 169.5h1M1121.5 166v12M1120 175.5h1M1122 166.5h1M1123.5 176v14M1122 182.5h1M1124 180.5h1M1125.5 179v12M1124 184.5h1M1126 188.5h1M1126.5 181v11M1125 192.5h1M1127 181.5h1M1128.5 186v12M1127 189.5h1M1129 198.5h1M1130.5 185v19M1129 194.5h1M1131 192.5h1M1132.5 187v10M1131 191.5h1M1133 192.5h1M1134.5 183v13M1133 188.5h1M1135 196.5h1M1136.5 190v16M1135 200.5h1M1137 205.5h1M1138.5 184v26M1137 195.5h1M1139 188.5h1M1139.5 178v14M1138 185.5h1M1140 184.5h1M1141.5 181v10M1140 185.5h1M1142 183.5h1M1143.5 178v11M1142 182.5h1M1144 189.5h1M1145.5 179v11M1144 182.5h1M1146 188.5h1M1147.5 164v28M1146 175.5h1M1148 178.5h1M1149.5 174v17M1148 187.5h1M1150 176.5h1M1151.5 185v12M1150 189.5h1M1152 193.5h1M1153.5 188v10M1152 191.5h1M1154 188.5h1M1154.5 190v11M1153 198.5h1M1155 200.5h1M1156.5 184v7M1155 184.5h1M1157 186.5h1M1158.5 180v12M1157 189.5h1M1159 185.5h1M1160.5 180v14M1159 190.5h1M1161 194.5h1M1162.5 180v12M1161 191.5h1M1163 180.5h1M1164.5 178v23M1163 188.5h1M1165 183.5h1M1166.5 175v14M1165 175.5h1M1167 176.5h1M1167.5 173v11M1166 177.5h1M1168 180.5h1M1169.5 169v9M1168 174.5h1M1170 169.5h1M1171.5 166v10M1170 171.5h1M1172 168.5h1M1173.5 160v14M1172 172.5h1M1174 173.5h1M1175.5 162v11M1174 171.5h1M1176 170.5h1M1177.5 165v13M1176 168.5h1M1178 176.5h1M1179.5 159v15M1178 174.5h1M1180 160.5h1M1181.5 142v22M1180 164.5h1M1182 156.5h1M1182.5 157v13M1181 161.5h1M1183 157.5h1M1184.5 167v11M1183 172.5h1M1185 169.5h1M1186.5 156v15M1185 158.5h1M1187 156.5h1M1188.5 153v15M1187 159.5h1M1189 158.5h1M1190.5 135v29M1189 163.5h1M1191 140.5h1M1192.5 134v30M1191 150.5h1M1193 134.5h1M1194.5 128v16M1193 143.5h1M1195 134.5h1M1195.5 130v11M1194 135.5h1M1196 130.5h1M1197.5 127v12M1196 137.5h1M1198 133.5h1M1199.5 131v10M1198 134.5h1M1200 140.5h1M1201.5 127v14M1200 137.5h1M1202 137.5h1M1203.5 120v16M1202 133.5h1M1204 127.5h1M1205.5 118v10M1204 122.5h1M1206 125.5h1M1207.5 112v9M1206 116.5h1M1208 114.5h1M1209.5 120v25M1208 135.5h1M1210 127.5h1M1210.5 136v25M1209 150.5h1M1211 142.5h1M1212.5 161v15M1211 172.5h1M1213 162.5h1M1214.5 145v16M1213 149.5h1M1215 154.5h1M1216.5 144v15M1215 148.5h1M1217 144.5h1M1218.5 135v15M1217 146.5h1M1219 138.5h1M1220.5 149v13M1219 159.5h1M1221 159.5h1M1222.5 163v16M1221 164.5h1M1223 170.5h1M1223.5 161v13M1222 163.5h1M1224 169.5h1M1225.5 163v10M1224 164.5h1M1226 163.5h1M1227.5 160v12M1226 161.5h1M1228 161.5h1M1229.5 165v10M1228 165.5h1M1230 167.5h1M1231.5 165v14M1230 173.5h1M1232 173.5h1M1233.5 169v11M1232 170.5h1M1234 174.5h1M1235.5 169v15M1234 176.5h1M1236 171.5h1M1237.5 163v8M1236 163.5h1M1238 166.5h1M1238.5 159v11M1237 164.5h1M1239 163.5h1M1240.5 145v8M1239 153.5h1M1241 149.5h1M1242.5 147v9M1241 151.5h1M1243 153.5h1M1244.5 147v10M1243 149.5h1M1245 153.5h1M1246.5 119v18M1245 119.5h1M1247 126.5h1M1248.5 129v13M1247 135.5h1M1249 132.5h1M1250.5 132v13M1249 141.5h1M1251 144.5h1M1251.5 117v13M1250 125.5h1M1252 122.5h1M1253.5 87v17M1252 101.5h1M1254 87.5h1M1255.5 103v12M1254 110.5h1M1256 111.5h1M1257.5 115v9M1256 121.5h1M1258 120.5h1M1259.5 116v10M1258 126.5h1M1260 121.5h1M1261.5 115v13M1260 124.5h1M1262 127.5h1M1263.5 114v11M1262 121.5h1M1264 125.5h1M1265.5 113v11M1264 115.5h1M1266 114.5h1M1266.5 108v20M1265 124.5h1M1267 113.5h1M1268.5 112v13M1267 125.5h1M1269 122.5h1M1270.5 113v11M1269 123.5h1M1271 113.5h1M1272.5 117v12M1271 123.5h1M1273 118.5h1M1274.5 108v20M1273 119.5h1M1275 119.5h1M1276.5 116v14M1275 120.5h1M1277 122.5h1M1278.5 126v9M1277 133.5h1M1279 128.5h1M1279.5 130v12M1278 135.5h1M1280 137.5h1M1281.5 139v9M1280 144.5h1M1282 147.5h1M1283.5 141v17M1282 147.5h1M1284 141.5h1M1285.5 144v21M1284 161.5h1M1286 152.5h1M1287.5 137v13M1286 144.5h1M1288 138.5h1M1289.5 140v7M1288 144.5h1M1290 145.5h1M1291.5 136v7M1290 136.5h1M1292 140.5h1M1293.5 135v7M1292 139.5h1M1294 140.5h1M1294.5 135v8M1293 138.5h1M1295 140.5h1M1296.5 141v7M1295 142.5h1M1297 148.5h1M1298.5 144v7M1297 151.5h1M1299 144.5h1M1300.5 148v11M1299 159.5h1M1301 154.5h1M1302.5 159v7M1301 166.5h1M1303 165.5h1M1304.5 169v30M1303 190.5h1M1305 176.5h1M1306.5 177v18M1305 194.5h1M1307 187.5h1M1308.5 180v11M1307 183.5h1M1309 181.5h1M1309.5 181v11M1308 188.5h1M1310 182.5h1M1311.5 168v24M1310 189.5h1M1312 174.5h1M1313.5 147v36M1312 173.5h1M1314 155.5h1M1315.5 157v18M1314 161.5h1M1316 167.5h1M1317.5 159v17M1316 176.5h1M1318 167.5h1M1319.5 155v8M1318 159.5h1M1320 163.5h1M1321.5 154v6M1320 155.5h1M1322 160.5h1M1322.5 149v10M1321 153.5h1M1323 152.5h1M1324.5 148v7M1323 153.5h1M1325 155.5h1M1326.5 149v10M1325 154.5h1M1327 152.5h1M1328.5 154v25M1327 154.5h1M1329 171.5h1M1330.5 154v38M1329 156.5h1M1331 171.5h1M1332.5 192v34M1331 205.5h1M1333 221.5h1M1334.5 208v20M1333 214.5h1M1335 209.5h1M1336.5 208v22M1335 211.5h1M1337 209.5h1M1337.5 211v27M1336 226.5h1M1338 216.5h1M1339.5 228v12M1338 230.5h1M1340 235.5h1M1341.5 195v39M1340 208.5h1M1342 229.5h1M1343.5 135v61M1342 148.5h1M1344 168.5h1M1345.5 93v59M1344 96.5h1M1346 119.5h1M1347.5 89v45M1346 117.5h1M1348 132.5h1M1349.5 86v34M1348 94.5h1M1350 88.5h1M1350.5 92v19M1349 110.5h1M1351 102.5h1M1352.5 95v29M1351 103.5h1M1353 105.5h1M1354.5 97v16M1353 104.5h1M1355 109.5h1M1356.5 93v12M1355 97.5h1M1357 96.5h1M1358.5 68v21M1357 72.5h1M1359 73.5h1M1360.5 66v16M1359 77.5h1M1361 69.5h1M1362.5 66v22M1361 82.5h1M1363 82.5h1M1364.5 69v14M1363 69.5h1M1365 81.5h1M1365.5 71v10M1364 74.5h1M1366 78.5h1M1367.5 69v8M1366 70.5h1M1368 72.5h1M1369.5 65v8M1368 68.5h1M1370 69.5h1M1371.5 61v10M1370 63.5h1M1372 71.5h1M1373.5 61v18M1372 76.5h1M1374 68.5h1M1375.5 79v15M1374 88.5h1M1376 81.5h1M1377.5 76v12M1376 77.5h1M1378 88.5h1M1378.5 82v23M1377 83.5h1M1379 98.5h1M1380.5 88v14M1379 99.5h1M1381 90.5h1M1382.5 86v16M1381 91.5h1M1383 97.5h1M1384.5 92v20M1383 107.5h1M1385 101.5h1M1386.5 95v24M1385 98.5h1M1387 99.5h1M1388.5 95v20M1387 109.5h1M1389 102.5h1M1390.5 94v15M1389 102.5h1M1391 105.5h1M1392.5 92v18M1391 96.5h1M1393 99.5h1M1393.5 97v11M1392 98.5h1M1394 97.5h1M1395.5 91v15M1394 98.5h1M1396 93.5h1M1397.5 88v23M1396 96.5h1M1398 88.5h1M1399.5 66v47M1398 102.5h1M1400 73.5h1M1401.5 81v17M1400 97.5h1M1402 82.5h1M1403.5 80v18M1402 83.5h1M1404 81.5h1M1405.5 79v23M1404 88.5h1M1406 89.5h1M1406.5 74v15M1405 84.5h1M1407 87.5h1M1408.5 69v24M1407 73.5h1M1409 92.5h1M1410.5 53v47M1409 61.5h1M1411 66.5h1M1412.5 37v24M1411 39.5h1M1413 37.5h1M1414.5 69v13M1413 81.5h1M1415 74.5h1M1416.5 74v13M1415 77.5h1M1417 87.5h1M1418.5 71v13M1417 83.5h1M1419 77.5h1M1420.5 69v15M1419 74.5h1M1421 84.5h1M1421.5 69v8M1420 73.5h1M1422 69.5h1M1423.5 70v8M1422 76.5h1M1424 76.5h1M1425.5 68v9M1424 72.5h1M1426 77.5h1M1427.5 66v13M1426 78.5h1M1428 78.5h1M1429.5 68v8M1428 71.5h1M1430 71.5h1M1431.5 68v9M1430 77.5h1M1432 68.5h1M1433.5 67v9M1432 72.5h1M1434 73.5h1M1434.5 69v10M1433 74.5h1M1435 79.5h1M1436.5 74v11M1435 74.5h1M1437 78.5h1M1438.5 59v15M1437 74.5h1M1439 72.5h1M1440.5 73v13M1439 74.5h1M1441 78.5h1M1442.5 85v15M1441 95.5h1M1443 87.5h1M1444.5 101v50M1443 127.5h1M1445 143.5h1M1446.5 103v12M1445 113.5h1M1447 103.5h1M1448.5 101v20M1447 111.5h1M1449 105.5h1M1449.5 105v19M1448 124.5h1M1450 117.5h1M1451.5 74v30M1450 99.5h1M1452 93.5h1M1453.5 72v22M1452 77.5h1M1454 84.5h1M1455.5 69v16M1454 76.5h1M1456 83.5h1M1457.5 59v19M1456 62.5h1M1458 76.5h1M1459.5 79v9M1458 81.5h1M1460 83.5h1M1461.5 77v8M1460 84.5h1M1462 81.5h1M1462.5 82v18M1461 94.5h1M1463 98.5h1M1464.5 81v13M1463 88.5h1M1465 86.5h1M1466.5 77v11M1465 87.5h1M1467 78.5h1M1468.5 63v15M1467 67.5h1M1469 77.5h1M1470.5 64v14M1469 78.5h1M1471 68.5h1M1472.5 68v11M1471 68.5h1M1473 74.5h1M1474.5 57v24M1473 77.5h1M1475 81.5h1M1476.5 56v34M1475 82.5h1M1477 61.5h1M1477.5 87v11M1476 98.5h1M1478 92.5h1M1479.5 79v16M1478 94.5h1M1480 80.5h1" stroke="#0000ff" stroke-width="1" fill="none" shape-rendering="crispEdges"/>
<polyline points="6,340 12,340.1 20.5,340.2 30.3,340.1 40,339.8 50,339.1 60.9,338.1 71.2,336.9 80,335.5 86.4,334 91.2,332.4 95.5,330.5 100.4,328.5 106.2,326.2 112.4,323.8 118.7,321.2 125,318.5 131.1,315.8 137.1,313 143.5,310.1 150.6,307 159,303.6 168.4,300 177.7,296.4 185.8,293.3 192.4,290.8 198.1,288.7 203.3,286.7 208.4,284.5 213.5,282 218.3,279.4 222.8,276.8 226.9,274.2 230.1,271.8 232.7,269.5 235.3,267.2 238.6,264.7 243.2,261.8 248.5,258.7 253.7,255.6 258.1,253.1 261.2,251.2 263.6,249.8 265.7,248.6 267.9,247.3 270.3,246 272.8,244.7 275.2,243.5 277.6,242.4 280,241.5 282.5,240.7 285,239.9 287.4,239.1 289.8,238.2 292.2,237.3 294.7,236.4 297.1,235.6 299.5,234.8 302,234.1 304.5,233.3 306.9,232.6 309.3,231.9 311.8,231.2 314.2,230.5 316.6,229.8 319,229 321.5,228.1 323.9,227.3 326.4,226.4 328.9,225.6 331.3,224.8 333.8,224 336.2,223 338.6,221.7 341,220.3 343.5,218.8 345.9,217.4 348.3,216.2 350.8,215.1 353.2,214.1 355.7,213.1 358.2,212.1 360.6,211.1 363.1,210.1 365.5,209.2 367.7,208.5 369.7,207.8 372.1,207.2 375.2,206.3 379.4,205.1 384.4,203.7 389.7,202.3 394.8,201 399.7,199.9 404.6,199 409.4,198.2 414.3,197.5 419.3,197 424.3,196.6 429.2,196.3 433.8,196.1 438.4,196.1 442.9,196.2 446.9,196.4 450,196.5 451.6,196.6 452.1,196.6 452.5,196.7 453.5,197 455.3,197.4 457.4,197.9 460,198.7 463.3,200 467.6,202 472.8,204.4 478,207.2 482.8,209.8 486.7,212.4 490.2,215.1 493.7,217.7 497.4,220 501.4,221.8 505.5,223.3 509.9,224.7 514.9,226.2 520.6,227.9 526.9,229.7 533.4,231.6 539.8,233.7 546.2,236.1 552.7,238.7 559,241.3 564.7,243.7 569.5,245.7 573.8,247.5 577.8,249.3 582.2,251.2 587.1,253.3 592.2,255.4 597.3,257.6 602.2,259.9 607.2,262.6 612.2,265.5 616.6,268.2 620,270.2 621.6,271 622,271.1 622.1,270.9 623,271.1 625,271.7 627.6,272.5 630.3,273.4 633,274.1 635.5,274.7 638,275.2 640.5,275.7 643,276.1 645.5,276.5 648,276.9 650.6,277.3 653.1,277.7 655.6,278.1 658.1,278.5 660.6,278.9 663.1,279.5 665.6,280.3 668.1,281.2 670.6,282.2 673.1,283.1 675.6,283.9 678.1,284.6 680.6,285.4 683.1,286.1 685.6,286.9 688.1,287.6 690.7,288.4 693.2,289.1 695.7,289.8 698.3,290.5 700.8,291.2 703.2,292.1 705.6,293.3 708,294.7 710.2,296 712,296.9 713.2,297.3 714,297.2 714.6,297.2 715.5,297.4 716.6,298 717.8,298.8 719.1,299.8 720.7,300.8 722.6,302 724.8,303.4 727.2,304.8 729.4,306 731.6,307 733.7,307.8 735.8,308.6 738,309.5 740.2,310.6 742.3,311.7 744.5,312.8 746.7,313.9 748.9,314.8 751.1,315.7 753.2,316.5 755.4,317.3 757.6,318 759.8,318.7 761.9,319.3 764.1,319.9 766.3,320.5 768.5,321.1 770.6,321.6 772.8,322.1 775,322.5 777.1,322.9 779.2,323.3 781.4,323.8 783.6,324.5 785.7,325.3 787.9,326.1 790.1,326.9 792.2,327.7 794.3,328.4 796.5,329.1 798.8,329.9 801.3,330.7 804,331.4 806.8,332.2 809.5,333 812,333.8 814.4,334.7 817,335.5 820,336 823.6,336.2 827.6,336.2 831.8,336.1 836,336 840.3,336 844.8,335.9 849.3,335.8 853.4,335.6 856.9,335.3 860,334.9 863.3,334.5 867.3,334.2 872.7,334.1 879,334 885.1,334.1 889.9,334.2 892.5,334.4 893.7,334.8 894.7,335.2 896.8,335.6 900.4,336.1 904.7,336.7 909.4,337.3 914,337.7 918.4,337.8 922.7,337.8 927.1,337.7 931.5,337.7 935.9,337.7 940.2,337.7 944.6,337.7 948.9,337.7 953.2,337.8 957.4,337.9 961.7,338 966,338 970.5,337.8 975,337.5 979.4,337.1 983.6,336.8 987.1,336.5 990.3,336.1 993.5,335.9 997.5,336 1002.4,336.5 1007.9,337.4 1013.7,338.3 1019.5,338.9 1025.5,339.2 1031.6,339.4 1037.6,339.3 1043,338.9 1047.4,338 1051.1,336.8 1054.6,335.4 1058.6,334 1063.2,332.6 1068,331.2 1073,329.7 1078,328.2 1082.9,326.8 1087.9,325.3 1092.8,323.9 1097.7,322.4 1102.6,320.8 1107.6,319.2 1112.4,317.5 1117,315.9 1121.2,314.4 1125,312.9 1128.8,311.5 1132.8,310 1136.9,308.5 1141.1,307 1145.5,305.4 1150.3,303.6 1155.5,301.6 1161.1,299.6 1166.9,297.2 1173,294.5 1179.4,291.2 1186.2,287.4 1193.1,283.5 1200,279.7 1206.7,276 1213.5,272.4 1220.2,268.7 1227,265 1234.1,261.2 1241.3,257.3 1248.2,253.5 1254.5,250 1259.8,246.9 1264.3,244.1 1268.6,241.3 1273,238.5 1277.6,235.5 1282.2,232.4 1286.8,229.3 1291.4,226.5 1296,224 1300.6,221.7 1305.2,219.5 1309.8,217.3 1314.4,215.1 1319,213 1323.6,211 1328.2,209 1332.8,207.2 1337.5,205.5 1342.1,203.8 1346.7,201.7 1351.2,199.2 1355.6,196.4 1360.2,193.5 1365,190.6 1370.4,187.7 1376.1,184.6 1381.8,181.6 1387,178.9 1391.5,176.5 1395.5,174.2 1399.3,172.1 1403.2,169.9 1407.3,167.7 1411.3,165.5 1415.4,163.2 1419.5,161 1423.6,158.7 1427.6,156.5 1431.6,154.2 1435.7,152 1439.8,149.8 1443.8,147.7 1447.9,145.7 1452,143.9 1456.2,142.4 1460.6,141.2 1464.7,140.1 1468.3,139 1471.4,137.8 1474.2,136.5 1476.4,135.4 1478,134.6" fill="none" stroke="#ff0000" stroke-width="2" stroke-linejoin="round"/>
<polyline points="6,341 7.9,338.7 10.6,335.4 13.6,331.7 16.3,328.5 18.1,326.4 19.5,324.9 21.5,322.6 25.1,318.4 30.9,311.2 38.3,301.9 46.3,292.1 54,283.3 61.7,275.4 69.8,267.9 77.2,261.1 82.9,255.7 86.1,252.2 87.6,250.3 88.5,248.7 90,246.5 92.4,243.2 95.2,239.4 98,235.7 100.8,232.4 103.5,229.9 106.2,227.9 109,226 111.7,223.8 114.4,221.2 117.1,218.4 119.8,215.5 122.5,212.9 125.2,210.5 128,208.3 130.7,206.2 133.4,204.2 136.1,202.1 138.8,200.1 141.5,198.2 144.2,196.6 147,195.3 149.9,194.3 152.7,193.5 155.1,192.8 157,192.3 158.6,191.9 160.1,191.8 161.6,191.8 163.2,192.1 164.7,192.7 166.3,193.3 168.1,193.9 170.2,194.4 172.7,194.8 175,195.2 176.8,195.6 177.8,195.9 178.3,196.2 178.9,196.5 180,196.7 182,197 184.5,197.2 187.2,197.4 189.8,197.5 192.2,197.4 194.7,197.2 197.1,196.9 199.5,196.7 201.9,196.7 204.4,196.9 206.8,196.8 209.3,196.2 211.8,194.8 214.2,192.9 216.7,190.8 219.1,188.6 221.5,186.3 223.9,183.9 226.4,181.6 228.8,179.6 231.2,178.1 233.7,177.1 236.1,176 238.6,174.8 241.1,173.3 243.5,171.6 246,169.8 248.4,168.2 250.9,166.6 253.6,165 256,163.6 258.1,162.5 259.6,161.9 260.7,161.7 261.7,161.6 263,161.7 264.7,161.8 266.5,162.1 268.4,162.5 270,163 271.3,163.6 272.4,164.4 273.4,165.2 274.7,165.8 276.3,166.1 278,166.2 279.8,166.4 281.5,167.1 283.2,168.4 284.9,170 286.5,171.9 288.2,173.8 289.9,175.7 291.5,177.8 293.2,179.9 294.9,182.2 296.5,184.6 298.1,187 299.8,189.6 301.6,192.3 303.6,195.1 305.7,198.1 307.9,201.1 310.1,204.1 312.2,207.2 314.4,210.4 316.5,213.4 318.5,215.9 320.3,217.9 322.1,219.5 323.7,220.7 325.2,221.8 326.5,222.6 327.7,223 328.9,223.4 330,223.9 331.1,224.6 332.2,225.4 333.3,226.2 334.6,226.9 336.2,227.7 337.9,228.5 339.7,229.2 341.4,229.6 343,229.6 344.5,229.4 346,229 347.5,228.4 348.9,227.6 350.3,226.7 351.6,225.7 352.8,224.6 353.8,223.6 354.6,222.7 355.6,221.6 357,220.1 359.1,218 361.6,215.6 364.2,212.9 366.8,210.3 369.3,207.7 371.8,205.1 374.2,202.4 376.5,199.8 378.7,197 380.7,194.2 382.7,191.5 384.7,189.2 386.7,187.5 388.6,186.1 390.7,185.1 392.8,184.3 395.2,183.9 397.8,183.8 400.3,183.9 402.6,184 404.5,184.3 406.2,184.7 407.7,185 409.1,185.1 410.4,184.6 411.5,183.8 412.6,183 414,182.7 415.8,182.9 417.9,183.3 420.1,184.1 422.1,185.1 423.8,186.4 425.5,188.1 427,189.9 428.6,191.6 430.2,193.3 431.9,195 433.5,196.6 435.1,198.1 436.8,199.4 438.4,200.5 440.1,201.7 441.6,203 443,204.5 444.4,206 445.7,207.7 447,209.5 448.1,211.3 449.2,213.2 450.3,215.3 451.6,217.7 453.3,220.3 455.1,223 457.2,226.2 459.3,230 461.6,234.8 464,240.3 466.5,246.1 468.9,251.5 471.3,256.3 473.6,260.8 476,265.4 478.4,270.6 480.8,276.7 483.2,283.4 485.6,290.2 488,296.8 490.4,303 492.7,309.2 495.1,315.1 497.5,320.7 500,325.9 502.4,330.9 504.9,335.5 507.1,339.8 509,343.9 510.8,347.6 512.5,351.1 514.2,354.1 516,356.7 517.8,358.9 519.6,360.8 521.4,362.5 523.2,364.1 525.1,365.4 526.8,366.5 528.5,367.2 530,367.6 531.3,367.6 532.6,367.3 534,366.9 535.6,366.2 537.2,365.2 538.9,364.1 540.5,363 542.1,362 543.8,360.9 545.4,359.9 547,359.1 548.6,358.7 550.2,358.5 551.9,358.2 553.5,357.8 555.1,357 556.8,356.1 558.4,355 560,353.9 561.6,352.8 563.2,351.8 564.9,350.6 566.5,349.3 568.1,347.8 569.8,346.2 571.4,344.5 573,342.8 574.6,341.2 576.2,339.6 577.9,337.9 579.5,336.3 581.2,334.6 582.8,332.9 584.5,331.2 586,329.8 587.3,328.6 588.5,327.4 589.7,326.5 591.2,325.9 593,325.6 594.9,325.7 597,325.9 599,325.9 601,325.7 602.9,325.5 604.8,325.3 606.8,325.3 608.7,325.7 610.6,326.3 612.5,326.8 614.6,327.2 616.8,327.4 619.2,327.4 621.6,327.2 624,326.5 626.3,325.2 628.5,323.6 630.7,321.5 633,319.2 635.4,316.4 637.9,313.1 640.5,309.9 643,307.2 645.6,305 648.2,303.1 650.7,301.6 653.1,300.7 655.2,300.7 657.2,301.4 659.1,302.2 661.1,302.7 663.1,302.4 665.1,301.8 667.1,301.3 669.1,301.5 671.1,302.6 673.1,304.3 675.1,306.3 677.1,308.2 679.1,310 681.1,311.9 683.1,313.7 685.1,315.2 687.1,316.1 689,316.7 691,317.3 693.2,318.2 695.6,319.6 698.2,321.3 700.7,323.2 703.2,325.2 705.5,327.3 707.8,329.7 710,332 712,334.3 713.8,336.4 715.5,338.4 717.1,340.4 718.9,342.5 720.8,344.9 722.8,347.4 724.8,349.8 726.8,351.6 728.8,352.6 730.7,353.1 732.7,353.4 734.6,353.8 736.6,354.6 738.6,355.6 740.6,356.4 742.4,356.8 744,356.6 745.4,356.1 746.8,355.4 748.5,354.7 750.5,354.1 752.7,353.6 755,352.9 757.1,352 758.9,350.7 760.6,349.1 762.3,347.5 764.1,346 766.2,344.7 768.4,343.5 770.6,342.3 772.8,341.2 775,340.1 777.3,339.1 779.4,338.2 781.4,337.3 783.1,336.5 784.6,335.9 786,335.3 787.5,334.7 789.2,334.2 790.9,333.8 792.7,333.4 794.5,333 796.4,332.5 798.5,332.1 800.4,331.6 802,331.2 802.9,330.9 803.3,330.6 803.9,330.4 805.4,330.3 808.2,330.4 811.8,330.5 815.9,330.8 820,331 824.4,331.2 829.2,331.4 833.8,331.6 837.8,332 840.9,332.6 843.5,333.3 845.8,334.2 848.2,335 850.8,335.8 853.4,336.6 856,337.4 858.6,338.5 861.3,339.9 864,341.5 866.6,343.1 869,344.6 871,345.8 872.7,346.9 874.3,347.9 876,349 877.7,350.3 879.3,351.6 881,352.9 883,354 885.3,354.8 887.9,355.5 890.6,356.1 893.3,356.8 895.9,357.8 898.5,358.9 901.1,360 903.8,361 906.3,362 908.9,362.9 911.4,363.8 914,364.6 916.6,365.3 919.3,365.9 922,366.4 924.6,366.7 927.3,366.8 930,366.7 932.6,366.4 935,366 937,365.4 938.7,364.7 940.3,363.8 942,362.8 943.6,361.7 945.2,360.4 946.9,359.1 948.9,357.6 951.3,356 953.9,354.3 956.6,352.5 959.3,350.7 962,349 964.7,347.2 967.3,345.5 969.7,343.8 971.7,342 973.4,340.3 975,338.5 976.7,336.8 978.4,335.1 980,333.3 981.8,331.6 983.6,329.9 985.6,328.2 987.8,326.4 990.1,324.7 992.3,323 994.4,321.4 996.5,319.8 998.7,318.3 1001,316.8 1003.5,315.4 1006,314 1008.7,312.8 1011.4,311.6 1014.2,310.6 1017,309.8 1019.9,309 1022.8,308.2 1025.6,307.4 1028.5,306.5 1031.3,305.7 1034.2,304.8 1037.1,303.9 1040,303 1042.9,302.1 1045.6,301.3 1048,300.6 1050.3,300 1052.5,299.5 1054.7,299 1056.9,298.8 1059.1,298.7 1061.4,298.6 1063.8,298 1066.5,297 1069.5,295.6 1072.5,294 1075.2,292.2 1077.6,290.2 1079.9,288.1 1082.1,285.7 1084.3,283 1086.6,279.9 1088.8,276.5 1091.1,273 1093.4,269.5 1095.7,266 1098,262.5 1100.2,259.1 1102.5,255.8 1104.7,252.9 1106.9,250.2 1109.2,247.5 1111.6,244.4 1114.3,240.7 1117.2,236.6 1120.1,232.4 1123,228.5 1125.8,224.9 1128.7,221.5 1131.6,218.2 1134.4,214.8 1137.2,211.2 1140,207.5 1142.8,204 1145.8,201 1149.1,198.8 1152.5,197.2 1156,195.8 1159.5,194.3 1162.9,192.6 1166.2,190.9 1169.6,189.2 1173,187.4 1176.5,185.4 1180,183.4 1183.4,181.3 1186.8,179.5 1190.1,178 1193.3,176.8 1196.4,175.6 1199.2,174 1201.7,171.9 1204,169.3 1206.2,166.9 1208.4,164.8 1210.7,163.3 1213,162.1 1215.3,161.1 1217.6,160.2 1219.9,159.3 1222.3,158.5 1224.6,157.7 1226.9,157 1229.2,156.4 1231.5,155.9 1233.7,155.4 1236,154.7 1238.3,153.9 1240.6,153 1243,152 1245.3,151 1247.6,149.9 1249.9,148.8 1252.2,147.6 1254.5,146.4 1256.8,145.2 1259.1,143.9 1261.4,142.7 1263.7,141.8 1266,141.2 1268.3,140.7 1270.7,140.5 1273,140.5 1275.3,140.9 1277.6,141.6 1279.9,142.3 1282.2,142.7 1284.5,142.7 1286.8,142.5 1289.1,142.2 1291.4,141.8 1293.7,141.3 1296,140.8 1298.3,140.2 1300.6,140 1302.9,140.1 1305.2,140.5 1307.5,141 1309.8,141.4 1312.1,141.7 1314.5,142 1316.8,142.3 1319,142.7 1321,143 1322.8,143.2 1324.6,143.7 1326.4,144.9 1328.2,147 1330,149.7 1331.8,152.7 1333.8,155.6 1336,158.6 1338.4,161.9 1340.7,164.7 1343,166.6 1345.1,167.1 1347.2,166.7 1349.2,165.8 1351,165 1352.5,164.4 1353.8,163.8 1355.2,163 1356.8,161.8 1358.8,160.2 1361.1,158.2 1363.4,156 1365.8,153.6 1368.2,151 1370.6,148.1 1373.1,145.1 1375.5,142.2 1377.9,139.3 1380.4,136.3 1382.9,133.5 1385.3,130.9 1387.8,128.6 1390.2,126.6 1392.7,124.7 1395,122.7 1397.2,120.7 1399.3,118.8 1401.3,116.7 1403.2,114.6 1405,112.3 1406.7,109.9 1408.2,107.4 1409.7,104.8 1411,101.9 1412.2,98.9 1413.3,95.9 1414.6,93.4 1416.1,91.4 1417.7,89.7 1419.4,88.3 1421,87 1422.6,85.9 1424.2,85 1425.8,84.2 1427.6,83.7 1429.5,83.4 1431.5,83.3 1433.6,83.5 1435.7,83.7 1437.8,84.1 1439.9,84.8 1442,85.5 1443.9,86 1445.6,86.4 1447.1,86.7 1448.6,86.9 1450.4,87 1452.6,86.8 1455.1,86.4 1457.7,86 1460.1,85.6 1462.3,85.3 1464.5,85.1 1466.5,84.8 1468.3,84.5 1469.7,84 1470.9,83.4 1472,82.9 1473.2,82.4 1474.7,82.1 1476.3,81.9 1477.8,81.8 1478.8,81.7" fill="none" stroke="#008000" stroke-width="2" stroke-linejoin="round"/>
<text x="1592.3" y="49.8" class="lb" fill="#ff0000" textLength="87.5" lengthAdjust="spacingAndGlyphs">6,43 / 6,18</text>
<text x="1576.8" y="107" class="lb" fill="#ff0000" textLength="33.4" lengthAdjust="spacingAndGlyphs">5,93</text>
<text x="1572.7" y="161.5" class="lb" fill="#ff0000" textLength="33.8" lengthAdjust="spacingAndGlyphs">5,50</text>
<text x="1428.6" y="198.1" class="lb" fill="#ff0000" textLength="96.6" lengthAdjust="spacingAndGlyphs">5,165 / 5,12</text>
<text x="1344.3" y="256.6" class="lb" fill="#ff0000" textLength="97.6" lengthAdjust="spacingAndGlyphs">4,81 / 4,780</text>
<text x="1063.8" y="416.8" class="lb" fill="#ff0000" textLength="106.7" lengthAdjust="spacingAndGlyphs">3,535 / 3,525</text>
<text x="746.3" y="461.8" class="lb" fill="#ff0000" textLength="44" lengthAdjust="spacingAndGlyphs">3,165</text>
<text x="555" y="219.9" class="lb" fill="#ff0000" textLength="90.5" lengthAdjust="spacingAndGlyphs">MMS (200)</text>
<text x="1121" y="337.6" class="lb" fill="#ff0000" style="font-size:14.5px" textLength="39" lengthAdjust="spacingAndGlyphs">4,065</text>
<text x="494.5" y="280" class="lb" fill="#008000" textLength="81.8" lengthAdjust="spacingAndGlyphs">MMS (40)</text>
<text x="75" y="462" fill="#a3a6cb" style="font-size:14.5px;font-weight:bold" textLength="171" lengthAdjust="spacingAndGlyphs">www.visualchart.com</text>
<text x="3" y="485" class="hd" fill="#ff0000" textLength="121.8" lengthAdjust="spacingAndGlyphs">ATRPorcentaje_NHH.MC</text>
<text x="130.5" y="485" class="hd" fill="#ff0000" textLength="32.4" lengthAdjust="spacingAndGlyphs">Line 1:</text>
<text x="166.6" y="485" class="hd" fill="#0000ff" textLength="32.3" lengthAdjust="spacingAndGlyphs">2,7233</text>
<text x="204.6" y="485" class="hd" fill="#ff0000" textLength="50.1" lengthAdjust="spacingAndGlyphs">P: 26,4307</text>
<rect x="1029" y="590" width="337" height="6" fill="#99ccff"/>
<rect x="783" y="567" width="285" height="2" fill="#000080"/>
<path d="M6 569h1v1h-1zM8 568h1v1h-1zM10 568h1v1h-1zM12 568h1v1h-1zM14 567h1v1h-1zM17 567h1v1h-1zM19 567h1v1h-1zM21 567h1v1h-1zM23 567h1v1h-1zM25 567h1v1h-1zM28 568h1v1h-1zM30 568h1v1h-1zM32 569h1v1h-1zM34 570h1v1h-1zM36 570h1v1h-1zM38 571h1v1h-1zM40 572h1v1h-1zM42 572h1v1h-1zM44 573h1v1h-1zM46 574h1v1h-1zM48 575h1v1h-1zM50 576h1v1h-1zM52 576h1v1h-1zM54 577h1v1h-1zM57 578h1v1h-1zM59 579h1v1h-1zM61 579h1v1h-1zM63 580h1v1h-1zM65 580h1v1h-1zM67 580h1v1h-1zM69 580h1v1h-1zM72 580h1v1h-1zM74 580h1v1h-1zM76 579h1v1h-1zM78 578h1v1h-1zM80 578h1v1h-1zM82 577h1v1h-1zM84 577h1v1h-1zM86 576h1v1h-1zM89 575h1v1h-1zM91 575h1v1h-1zM93 574h1v1h-1zM95 574h1v1h-1zM97 574h1v1h-1zM99 573h1v1h-1zM102 573h1v1h-1zM104 574h1v1h-1zM106 574h1v1h-1zM108 574h1v1h-1zM110 575h1v1h-1zM112 575h1v1h-1zM114 576h1v1h-1zM117 577h1v1h-1zM119 577h1v1h-1zM121 578h1v1h-1zM123 578h1v1h-1zM125 579h1v1h-1zM127 579h1v1h-1zM129 579h1v1h-1zM132 579h1v1h-1zM134 579h1v1h-1zM136 579h1v1h-1zM138 580h1v1h-1zM140 579h1v1h-1zM143 579h1v1h-1zM145 579h1v1h-1zM147 579h1v1h-1zM149 579h1v1h-1zM151 579h1v1h-1zM154 579h1v1h-1zM156 579h1v1h-1zM158 579h1v1h-1zM160 579h1v1h-1zM162 579h1v1h-1zM165 578h1v1h-1zM167 578h1v1h-1zM169 578h1v1h-1zM171 578h1v1h-1zM173 578h1v1h-1zM176 578h1v1h-1zM178 577h1v1h-1zM180 577h1v1h-1zM182 576h1v1h-1zM184 576h1v1h-1zM186 576h1v1h-1zM189 575h1v1h-1zM191 575h1v1h-1zM193 574h1v1h-1zM195 574h1v1h-1zM197 574h1v1h-1zM199 573h1v1h-1zM202 573h1v1h-1zM204 572h1v1h-1zM206 572h1v1h-1zM208 572h1v1h-1zM210 571h1v1h-1zM212 571h1v1h-1zM215 571h1v1h-1zM217 571h1v1h-1zM219 571h1v1h-1zM221 571h1v1h-1zM223 571h1v1h-1zM226 572h1v1h-1zM228 572h1v1h-1zM230 572h1v1h-1zM232 573h1v1h-1zM234 573h1v1h-1zM236 574h1v1h-1zM239 574h1v1h-1zM241 574h1v1h-1zM243 574h1v1h-1zM245 575h1v1h-1zM247 575h1v1h-1zM249 575h1v1h-1zM252 576h1v1h-1zM254 576h1v1h-1zM256 576h1v1h-1zM258 576h1v1h-1zM260 577h1v1h-1zM263 576h1v1h-1zM265 576h1v1h-1zM267 576h1v1h-1zM269 575h1v1h-1zM271 574h1v1h-1zM273 573h1v1h-1zM275 571h1v1h-1zM276 570h1v1h-1zM278 569h1v1h-1zM280 567h1v1h-1zM282 566h1v1h-1zM283 565h1v1h-1zM285 564h1v1h-1zM287 562h1v1h-1zM289 561h1v1h-1zM291 560h1v1h-1zM292 559h1v1h-1zM294 557h1v1h-1zM296 556h1v1h-1zM298 555h1v1h-1zM300 554h1v1h-1zM302 554h1v1h-1zM304 554h1v1h-1zM306 555h1v1h-1zM308 556h1v1h-1zM310 557h1v1h-1zM312 558h1v1h-1zM314 559h1v1h-1zM316 560h1v1h-1zM318 561h1v1h-1zM320 562h1v1h-1zM322 563h1v1h-1zM324 564h1v1h-1zM326 566h1v1h-1zM328 567h1v1h-1zM329 568h1v1h-1zM331 569h1v1h-1zM333 570h1v1h-1zM335 571h1v1h-1zM337 573h1v1h-1zM339 574h1v1h-1zM341 574h1v1h-1zM343 575h1v1h-1zM345 576h1v1h-1zM347 576h1v1h-1zM349 577h1v1h-1zM352 577h1v1h-1zM354 577h1v1h-1zM356 578h1v1h-1zM358 578h1v1h-1zM360 578h1v1h-1zM362 579h1v1h-1zM365 579h1v1h-1zM367 579h1v1h-1zM369 580h1v1h-1zM371 580h1v1h-1zM373 581h1v1h-1zM375 581h1v1h-1zM377 580h1v1h-1zM379 579h1v1h-1zM381 578h1v1h-1zM383 577h1v1h-1zM385 576h1v1h-1zM387 575h1v1h-1zM389 574h1v1h-1zM391 573h1v1h-1zM393 572h1v1h-1zM395 572h1v1h-1zM397 571h1v1h-1zM399 570h1v1h-1zM401 569h1v1h-1zM404 569h1v1h-1zM406 568h1v1h-1zM408 568h1v1h-1zM410 568h1v1h-1zM412 568h1v1h-1zM415 567h1v1h-1zM417 567h1v1h-1zM419 567h1v1h-1zM421 567h1v1h-1zM423 567h1v1h-1zM426 567h1v1h-1zM428 567h1v1h-1zM430 568h1v1h-1zM432 568h1v1h-1zM434 568h1v1h-1zM436 568h1v1h-1zM439 568h1v1h-1zM441 569h1v1h-1zM443 569h1v1h-1zM445 569h1v1h-1zM447 569h1v1h-1zM450 569h1v1h-1zM452 569h1v1h-1zM454 568h1v1h-1zM456 567h1v1h-1zM457 565h1v1h-1zM459 564h1v1h-1zM461 563h1v1h-1zM462 561h1v1h-1zM464 560h1v1h-1zM466 558h1v1h-1zM467 557h1v1h-1zM469 555h1v1h-1zM470 554h1v1h-1zM472 552h1v1h-1zM474 551h1v1h-1zM475 549h1v1h-1zM477 547h1v1h-1zM478 546h1v1h-1zM480 544h1v1h-1zM481 543h1v1h-1zM483 541h1v1h-1zM484 539h1v1h-1zM486 538h1v1h-1zM487 536h1v1h-1zM489 535h1v1h-1zM490 533h1v1h-1zM492 531h1v1h-1zM493 529h1v1h-1zM494 528h1v1h-1zM496 526h1v1h-1zM497 524h1v1h-1zM499 523h1v1h-1zM500 521h1v1h-1zM502 520h1v1h-1zM504 520h1v1h-1zM506 519h1v1h-1zM509 518h1v1h-1zM511 519h1v1h-1zM513 519h1v1h-1zM515 520h1v1h-1zM516 522h1v1h-1zM518 523h1v1h-1zM519 525h1v1h-1zM521 527h1v1h-1zM522 528h1v1h-1zM524 530h1v1h-1zM525 532h1v1h-1zM527 533h1v1h-1zM528 535h1v1h-1zM530 536h1v1h-1zM532 538h1v1h-1zM533 539h1v1h-1zM535 541h1v1h-1zM536 542h1v1h-1zM538 544h1v1h-1zM540 545h1v1h-1zM542 546h1v1h-1zM543 548h1v1h-1zM545 549h1v1h-1zM547 550h1v1h-1zM549 551h1v1h-1zM551 552h1v1h-1zM553 553h1v1h-1zM555 553h1v1h-1zM557 554h1v1h-1zM559 554h1v1h-1zM562 555h1v1h-1zM564 556h1v1h-1zM566 556h1v1h-1zM568 557h1v1h-1zM570 558h1v1h-1zM572 559h1v1h-1zM574 560h1v1h-1zM576 561h1v1h-1zM578 562h1v1h-1zM580 563h1v1h-1zM581 564h1v1h-1zM583 565h1v1h-1zM585 566h1v1h-1zM587 567h1v1h-1zM589 568h1v1h-1zM592 568h1v1h-1zM594 569h1v1h-1zM596 570h1v1h-1zM598 570h1v1h-1zM600 570h1v1h-1zM602 571h1v1h-1zM604 571h1v1h-1zM607 571h1v1h-1zM609 570h1v1h-1zM611 570h1v1h-1zM613 570h1v1h-1zM615 570h1v1h-1zM618 570h1v1h-1zM620 570h1v1h-1zM622 571h1v1h-1zM624 571h1v1h-1zM626 571h1v1h-1zM629 571h1v1h-1zM631 571h1v1h-1zM633 572h1v1h-1zM635 572h1v1h-1zM637 572h1v1h-1zM640 572h1v1h-1zM642 572h1v1h-1zM644 573h1v1h-1zM646 573h1v1h-1zM648 572h1v1h-1zM651 572h1v1h-1zM653 572h1v1h-1zM655 571h1v1h-1zM657 571h1v1h-1zM659 570h1v1h-1zM661 568h1v1h-1zM662 567h1v1h-1zM664 565h1v1h-1zM665 563h1v1h-1zM666 561h1v1h-1zM667 560h1v1h-1zM668 558h1v1h-1zM669 556h1v1h-1zM670 554h1v1h-1zM671 552h1v1h-1zM672 550h1v1h-1zM673 548h1v1h-1zM673 545h1v1h-1zM674 543h1v1h-1zM675 541h1v1h-1zM676 539h1v1h-1zM677 537h1v1h-1zM677 535h1v1h-1zM678 533h1v1h-1zM679 531h1v1h-1zM680 529h1v1h-1zM681 527h1v1h-1zM682 525h1v1h-1zM683 523h1v1h-1zM684 521h1v1h-1zM684 519h1v1h-1zM685 517h1v1h-1zM686 515h1v1h-1zM687 513h1v1h-1zM688 511h1v1h-1zM690 509h1v1h-1zM691 508h1v1h-1zM692 506h1v1h-1zM694 505h1v1h-1zM696 504h1v1h-1zM699 505h1v1h-1zM701 506h1v1h-1zM702 507h1v1h-1zM704 508h1v1h-1zM706 510h1v1h-1zM707 512h1v1h-1zM708 514h1v1h-1zM709 515h1v1h-1zM710 517h1v1h-1zM711 519h1v1h-1zM712 521h1v1h-1zM713 523h1v1h-1zM713 526h1v1h-1zM714 528h1v1h-1zM715 530h1v1h-1zM716 532h1v1h-1zM717 534h1v1h-1zM718 536h1v1h-1zM719 538h1v1h-1zM720 540h1v1h-1zM721 542h1v1h-1zM722 543h1v1h-1zM723 545h1v1h-1zM724 547h1v1h-1zM725 549h1v1h-1zM726 551h1v1h-1zM727 553h1v1h-1zM728 555h1v1h-1zM729 557h1v1h-1zM731 559h1v1h-1zM732 560h1v1h-1zM734 562h1v1h-1zM736 563h1v1h-1zM737 565h1v1h-1zM739 566h1v1h-1zM741 567h1v1h-1zM743 568h1v1h-1zM745 569h1v1h-1zM747 570h1v1h-1zM749 571h1v1h-1zM751 572h1v1h-1zM753 573h1v1h-1zM755 574h1v1h-1zM757 574h1v1h-1zM759 575h1v1h-1zM761 576h1v1h-1zM763 577h1v1h-1zM765 578h1v1h-1zM767 580h1v1h-1zM768 581h1v1h-1zM771 581h1v1h-1zM773 582h1v1h-1zM775 582h1v1h-1zM777 582h1v1h-1zM779 582h1v1h-1zM781 582h1v1h-1zM784 582h1v1h-1zM786 582h1v1h-1zM788 582h1v1h-1zM790 581h1v1h-1zM792 581h1v1h-1zM794 580h1v1h-1zM797 580h1v1h-1zM799 580h1v1h-1zM801 579h1v1h-1zM803 579h1v1h-1zM805 579h1v1h-1zM808 579h1v1h-1zM810 579h1v1h-1zM812 579h1v1h-1zM814 579h1v1h-1zM816 579h1v1h-1zM818 580h1v1h-1zM821 580h1v1h-1zM823 581h1v1h-1zM825 581h1v1h-1zM827 581h1v1h-1zM829 582h1v1h-1zM831 582h1v1h-1zM833 583h1v1h-1zM836 583h1v1h-1zM838 584h1v1h-1zM840 584h1v1h-1zM842 584h1v1h-1zM844 585h1v1h-1zM847 585h1v1h-1zM849 585h1v1h-1zM851 585h1v1h-1zM853 584h1v1h-1zM855 584h1v1h-1zM857 583h1v1h-1zM859 583h1v1h-1zM861 582h1v1h-1zM863 581h1v1h-1zM865 580h1v1h-1zM867 579h1v1h-1zM869 577h1v1h-1zM871 576h1v1h-1zM873 575h1v1h-1zM875 574h1v1h-1zM877 573h1v1h-1zM879 572h1v1h-1zM881 571h1v1h-1zM883 570h1v1h-1zM885 570h1v1h-1zM887 571h1v1h-1zM889 572h1v1h-1zM891 572h1v1h-1zM893 573h1v1h-1zM895 574h1v1h-1zM897 575h1v1h-1zM899 576h1v1h-1zM901 577h1v1h-1zM903 578h1v1h-1zM905 579h1v1h-1zM907 580h1v1h-1zM909 581h1v1h-1zM911 581h1v1h-1zM913 582h1v1h-1zM915 582h1v1h-1zM918 583h1v1h-1zM920 583h1v1h-1zM922 584h1v1h-1zM924 584h1v1h-1zM926 585h1v1h-1zM928 585h1v1h-1zM931 585h1v1h-1zM933 586h1v1h-1zM935 586h1v1h-1zM937 586h1v1h-1zM939 586h1v1h-1zM941 586h1v1h-1zM944 586h1v1h-1zM946 586h1v1h-1zM948 586h1v1h-1zM950 586h1v1h-1zM952 586h1v1h-1zM955 586h1v1h-1zM957 586h1v1h-1zM959 586h1v1h-1zM961 586h1v1h-1zM963 586h1v1h-1zM966 586h1v1h-1zM968 586h1v1h-1zM970 586h1v1h-1zM972 586h1v1h-1zM974 586h1v1h-1zM977 586h1v1h-1zM979 586h1v1h-1zM981 586h1v1h-1zM983 586h1v1h-1zM985 586h1v1h-1zM988 586h1v1h-1zM990 586h1v1h-1zM992 586h1v1h-1zM994 586h1v1h-1zM996 586h1v1h-1zM999 586h1v1h-1zM1001 586h1v1h-1zM1003 586h1v1h-1zM1005 586h1v1h-1zM1007 587h1v1h-1zM1010 587h1v1h-1zM1012 587h1v1h-1zM1014 587h1v1h-1zM1016 587h1v1h-1zM1018 587h1v1h-1zM1021 588h1v1h-1zM1023 588h1v1h-1zM1025 588h1v1h-1zM1027 588h1v1h-1zM1029 589h1v1h-1zM1032 589h1v1h-1zM1034 589h1v1h-1zM1036 589h1v1h-1zM1038 590h1v1h-1zM1040 590h1v1h-1zM1042 590h1v1h-1zM1045 591h1v1h-1zM1047 591h1v1h-1zM1049 591h1v1h-1zM1051 591h1v1h-1zM1053 591h1v1h-1zM1056 591h1v1h-1zM1058 591h1v1h-1zM1060 590h1v1h-1zM1062 590h1v1h-1zM1064 589h1v1h-1zM1066 589h1v1h-1zM1069 589h1v1h-1zM1071 588h1v1h-1zM1073 588h1v1h-1zM1075 588h1v1h-1zM1077 588h1v1h-1zM1080 587h1v1h-1zM1082 587h1v1h-1zM1084 587h1v1h-1zM1086 587h1v1h-1zM1088 587h1v1h-1zM1090 587h1v1h-1zM1093 586h1v1h-1zM1095 586h1v1h-1zM1097 586h1v1h-1zM1099 586h1v1h-1zM1101 586h1v1h-1zM1104 586h1v1h-1zM1106 585h1v1h-1zM1108 585h1v1h-1zM1110 585h1v1h-1zM1112 585h1v1h-1zM1115 585h1v1h-1zM1117 585h1v1h-1zM1119 585h1v1h-1zM1121 584h1v1h-1zM1123 584h1v1h-1zM1126 584h1v1h-1zM1128 584h1v1h-1zM1130 584h1v1h-1zM1132 584h1v1h-1zM1134 584h1v1h-1zM1137 584h1v1h-1zM1139 583h1v1h-1zM1141 583h1v1h-1zM1143 583h1v1h-1zM1145 583h1v1h-1zM1148 582h1v1h-1zM1150 582h1v1h-1zM1152 582h1v1h-1zM1154 581h1v1h-1zM1156 580h1v1h-1zM1158 580h1v1h-1zM1160 579h1v1h-1zM1162 579h1v1h-1zM1165 578h1v1h-1zM1167 578h1v1h-1zM1169 578h1v1h-1zM1171 578h1v1h-1zM1173 579h1v1h-1zM1176 579h1v1h-1zM1178 579h1v1h-1zM1180 580h1v1h-1zM1182 580h1v1h-1zM1184 580h1v1h-1zM1186 581h1v1h-1zM1189 581h1v1h-1zM1191 581h1v1h-1zM1193 581h1v1h-1zM1195 582h1v1h-1zM1197 582h1v1h-1zM1200 582h1v1h-1zM1202 582h1v1h-1zM1204 582h1v1h-1zM1206 583h1v1h-1zM1208 583h1v1h-1zM1211 583h1v1h-1zM1213 583h1v1h-1zM1215 583h1v1h-1zM1217 583h1v1h-1zM1219 582h1v1h-1zM1221 582h1v1h-1zM1224 582h1v1h-1zM1226 582h1v1h-1zM1228 582h1v1h-1zM1230 582h1v1h-1zM1232 582h1v1h-1zM1235 582h1v1h-1zM1237 583h1v1h-1zM1239 583h1v1h-1zM1241 584h1v1h-1zM1243 585h1v1h-1zM1245 585h1v1h-1zM1247 586h1v1h-1zM1249 587h1v1h-1zM1251 587h1v1h-1zM1254 588h1v1h-1zM1256 589h1v1h-1zM1258 589h1v1h-1zM1260 590h1v1h-1zM1262 590h1v1h-1zM1264 591h1v1h-1zM1266 591h1v1h-1zM1269 591h1v1h-1zM1271 591h1v1h-1zM1273 591h1v1h-1zM1275 590h1v1h-1zM1277 590h1v1h-1zM1279 590h1v1h-1zM1282 589h1v1h-1zM1284 589h1v1h-1zM1286 588h1v1h-1zM1288 588h1v1h-1zM1290 588h1v1h-1zM1292 588h1v1h-1zM1295 588h1v1h-1zM1297 588h1v1h-1zM1299 588h1v1h-1zM1301 589h1v1h-1zM1303 589h1v1h-1zM1306 589h1v1h-1zM1308 589h1v1h-1zM1310 589h1v1h-1zM1312 589h1v1h-1zM1314 589h1v1h-1zM1317 589h1v1h-1zM1319 589h1v1h-1zM1321 588h1v1h-1zM1323 588h1v1h-1zM1325 587h1v1h-1zM1327 586h1v1h-1zM1329 585h1v1h-1zM1331 584h1v1h-1zM1333 583h1v1h-1zM1335 581h1v1h-1zM1337 580h1v1h-1zM1338 579h1v1h-1zM1340 578h1v1h-1zM1342 576h1v1h-1zM1343 575h1v1h-1zM1345 573h1v1h-1zM1347 572h1v1h-1zM1348 570h1v1h-1zM1350 568h1v1h-1zM1351 567h1v1h-1zM1353 565h1v1h-1zM1354 564h1v1h-1zM1356 562h1v1h-1zM1358 561h1v1h-1zM1360 560h1v1h-1zM1361 559h1v1h-1zM1363 557h1v1h-1zM1365 556h1v1h-1zM1367 555h1v1h-1zM1369 554h1v1h-1zM1371 554h1v1h-1zM1373 553h1v1h-1zM1375 553h1v1h-1zM1378 553h1v1h-1zM1380 553h1v1h-1zM1382 554h1v1h-1zM1384 555h1v1h-1zM1385 557h1v1h-1zM1387 558h1v1h-1zM1388 560h1v1h-1zM1390 562h1v1h-1zM1391 563h1v1h-1zM1393 565h1v1h-1zM1394 567h1v1h-1zM1395 568h1v1h-1zM1397 570h1v1h-1zM1398 572h1v1h-1zM1400 573h1v1h-1zM1401 575h1v1h-1zM1403 576h1v1h-1zM1405 577h1v1h-1zM1407 579h1v1h-1zM1409 579h1v1h-1zM1411 579h1v1h-1zM1413 579h1v1h-1zM1415 578h1v1h-1zM1417 577h1v1h-1zM1419 577h1v1h-1zM1421 576h1v1h-1zM1424 575h1v1h-1zM1426 575h1v1h-1zM1428 574h1v1h-1zM1430 573h1v1h-1zM1432 573h1v1h-1zM1434 573h1v1h-1zM1436 574h1v1h-1zM1438 575h1v1h-1zM1440 576h1v1h-1zM1442 577h1v1h-1zM1444 577h1v1h-1zM1446 578h1v1h-1zM1449 578h1v1h-1zM1451 579h1v1h-1zM1453 579h1v1h-1zM1455 579h1v1h-1zM1457 580h1v1h-1zM1459 580h1v1h-1zM1462 580h1v1h-1zM1464 580h1v1h-1zM1466 580h1v1h-1zM1468 580h1v1h-1zM1470 580h1v1h-1zM1473 580h1v1h-1zM1475 580h1v1h-1zM1477 580h1v1h-1z" fill="#0000ff" shape-rendering="crispEdges"/>
<polyline points="6.3,568.7 12.5,568.3 19.9,566.2 27.2,569.4 33.5,576.7 37.7,579.8 40.8,574.6 48.1,577.7 58.6,585 64.9,582 71.1,578.8 75.7,568.7 79.5,574.6 90,575.6 94.1,576.7 102.5,571.5 107.7,573.6 114,584.6 125.5,577.1 129.7,579.8 146.4,577.7 163.2,579.2 169.5,574.6 180,574 188.3,579.2 194.6,572 206,567.9 213.4,570.4 223.8,578.2 230,571 238.5,574.6 243.7,573 251,580.5 259.4,577.1 265.7,574 268.8,564.1 274,561.6 280.3,555.8 284.5,557.4 288.7,554.1 295,555.4 299.2,554.7 307.5,558.9 311.7,565.8 315.9,569.4 324.3,572.5 330.5,578.4 338.9,576.3 355.6,580.3 368.2,581.9 374.5,580.3 378.7,572.5 382.8,570.8 387,575.6 391.2,567.3 395.4,565.8 400,567.6 406.3,567 409.4,569.1 413.6,564 419.9,568.7 427.2,564.9 436.6,573.9 441.8,569.7 446,563.5 451.3,562.8 454.4,565.5 457.5,557.2 461.7,552 465.9,545.7 472.2,541.5 476.4,536.3 479.5,541.5 482.6,527.9 486.8,530 490,514.3 494.1,507 498.3,514.3 503.6,520.6 507.7,528.9 511.9,526.8 517.2,533.1 521.3,535.2 527.6,544.6 533.9,555.1 542.3,557.2 548.5,551.5 554.8,558.2 561.1,561.4 567.4,558.6 573.6,565.5 582,571.8 590.4,571.8 594.6,573.9 601.9,569.7 609.2,571.8 615.5,569.7 623.8,571.8 632.2,573.9 640.6,575.4 646.9,570.8 651,565.5 655.2,557.2 663.6,560.7 667.8,552 668.8,545.7 670.9,504.9 678.2,507 684.5,495 688.7,499.6 693.9,511.2 699.2,509 703.3,513.2 707.5,531 709.6,547.8 712.8,559.3 718,561.4 721.1,557.8 728.5,568.7 738.9,572.9 747.3,571.2 753.6,576 761.9,585.4 770.3,585.4 778.7,578.5 787,580.8 794.6,579.1 809.3,577 815.6,580.2 828.1,585.4 834.4,583.7 841.7,587.1 844.9,585 851.1,587.9 855.3,582.3 863.7,572.9 867.9,570.8 876.2,570.1 884.6,572.9 895,580.2 902.4,586 909.7,582.9 918.1,585.4 930.6,585.8 943.2,588.6 953.6,587.5 968.3,585 978.7,586.5 987.1,588.6 993.4,583.7 1003.8,583.7 1012.2,587.9 1020.6,588.6 1027.9,587.5 1033.1,591.7 1040.5,595.9 1045.7,591.7 1054.1,587.9 1064.5,588.1 1072.9,587.5 1083.3,586.5 1093.8,586.5 1102.2,583.3 1114.7,585 1125.2,582.9 1133.6,585.8 1139.8,583.7 1146.1,579.1 1154.5,576.6 1162.8,578.7 1166.3,578.1 1176.7,583.3 1183,580.8 1187.2,585 1191.4,581.7 1197.7,583.3 1206,586.5 1212.3,578.1 1220.7,580.8 1227,581.7 1231.1,585.4 1239.5,588.6 1245.8,587.5 1250,592.7 1256.2,589.2 1262.5,592.7 1270.9,591.7 1275,587.1 1282.4,585 1289.7,587.9 1293.9,592.7 1302.3,591.7 1304.4,587.1 1314.8,583.7 1325.3,588.6 1327.4,580.8 1331.5,573.9 1337.8,565.5 1343,563.5 1346.2,555.1 1358.7,553.6 1364,550.3 1369.2,555.1 1373.4,554 1379.7,557.2 1382.8,562.4 1384.9,576 1392.2,580.2 1396.4,582.3 1398.5,578.7 1404.8,580.2 1409,579.1 1413.1,571.8 1421.5,571.2 1429.9,575.4 1436.2,576 1438.2,582.9 1442.4,575.4 1446.6,575.4 1451.8,581.7 1459.2,580.2 1473.8,581.2 1475.9,576 1478.4,576" fill="none" stroke="#ff0000" stroke-width="2" stroke-linejoin="round"/>
<text x="743" y="533.5" class="lb" fill="#000080" textLength="357.5" lengthAdjust="spacingAndGlyphs">Rango de amplitud medio en porcentaje</text>
<text x="3.3" y="619.3" class="hd" fill="#ff0000" textLength="80.6" lengthAdjust="spacingAndGlyphs">MACD_NHH.MC</text>
<text x="89" y="619.3" class="hd" fill="#ff0000" textLength="34.4" lengthAdjust="spacingAndGlyphs">MACD:</text>
<text x="127" y="619.3" class="hd" fill="#0000ff" textLength="32" lengthAdjust="spacingAndGlyphs">0,0171</text>
<text x="165.2" y="619.3" class="hd" fill="#0000ff" textLength="87.8" lengthAdjust="spacingAndGlyphs">MediaSIG: 0,0155</text>
<text x="258.8" y="619.3" class="hd" fill="#1818c8" textLength="101.9" lengthAdjust="spacingAndGlyphs">Band_MACD: 0,0000</text>
<text x="366.4" y="619.3" class="hd" fill="#ff0000" textLength="44.8" lengthAdjust="spacingAndGlyphs">P: 2,8430</text>
<rect x="224" y="631" width="1181" height="10.5" fill="#99ccff"/>
<rect x="6" y="672" width="1473" height="1.2" fill="#0000ff"/>
<path d="M6 646h1v1h-1zM7 644h1v1h-1zM9 643h1v1h-1zM11 642h1v1h-1zM13 642h1v1h-1zM16 642h1v1h-1zM18 643h1v1h-1zM20 643h1v1h-1zM22 643h1v1h-1zM24 644h1v1h-1zM26 644h1v1h-1zM29 645h1v1h-1zM31 645h1v1h-1zM33 646h1v1h-1zM35 647h1v1h-1zM37 647h1v1h-1zM39 648h1v1h-1zM41 649h1v1h-1zM43 650h1v1h-1zM45 651h1v1h-1zM47 652h1v1h-1zM49 653h1v1h-1zM51 653h1v1h-1zM53 654h1v1h-1zM55 655h1v1h-1zM57 656h1v1h-1zM59 656h1v1h-1zM62 657h1v1h-1zM64 657h1v1h-1zM66 657h1v1h-1zM68 656h1v1h-1zM70 655h1v1h-1zM72 654h1v1h-1zM74 653h1v1h-1zM76 652h1v1h-1zM78 651h1v1h-1zM79 650h1v1h-1zM81 649h1v1h-1zM83 647h1v1h-1zM85 646h1v1h-1zM87 645h1v1h-1zM89 644h1v1h-1zM91 643h1v1h-1zM93 642h1v1h-1zM95 642h1v1h-1zM97 642h1v1h-1zM99 643h1v1h-1zM102 644h1v1h-1zM104 644h1v1h-1zM106 645h1v1h-1zM108 646h1v1h-1zM110 647h1v1h-1zM112 648h1v1h-1zM114 649h1v1h-1zM115 650h1v1h-1zM117 651h1v1h-1zM119 652h1v1h-1zM121 654h1v1h-1zM123 655h1v1h-1zM125 656h1v1h-1zM126 657h1v1h-1zM128 659h1v1h-1zM130 660h1v1h-1zM132 661h1v1h-1zM134 662h1v1h-1zM136 663h1v1h-1zM138 664h1v1h-1zM140 664h1v1h-1zM142 664h1v1h-1zM144 664h1v1h-1zM147 664h1v1h-1zM149 664h1v1h-1zM151 664h1v1h-1zM153 665h1v1h-1zM155 665h1v1h-1zM157 666h1v1h-1zM159 667h1v1h-1zM162 667h1v1h-1zM164 668h1v1h-1zM166 669h1v1h-1zM168 670h1v1h-1zM170 671h1v1h-1zM172 672h1v1h-1zM173 673h1v1h-1zM175 674h1v1h-1zM177 675h1v1h-1zM179 677h1v1h-1zM181 677h1v1h-1zM183 678h1v1h-1zM185 678h1v1h-1zM187 678h1v1h-1zM190 677h1v1h-1zM192 676h1v1h-1zM193 675h1v1h-1zM195 674h1v1h-1zM197 673h1v1h-1zM199 672h1v1h-1zM202 672h1v1h-1zM204 671h1v1h-1zM206 671h1v1h-1zM208 670h1v1h-1zM210 669h1v1h-1zM212 667h1v1h-1zM213 666h1v1h-1zM214 664h1v1h-1zM215 662h1v1h-1zM217 660h1v1h-1zM218 658h1v1h-1zM219 657h1v1h-1zM220 655h1v1h-1zM221 653h1v1h-1zM222 651h1v1h-1zM223 649h1v1h-1zM225 647h1v1h-1zM226 645h1v1h-1zM227 643h1v1h-1zM229 642h1v1h-1zM231 643h1v1h-1zM233 644h1v1h-1zM234 645h1v1h-1zM236 647h1v1h-1zM237 649h1v1h-1zM239 650h1v1h-1zM240 652h1v1h-1zM242 653h1v1h-1zM243 655h1v1h-1zM245 657h1v1h-1zM247 658h1v1h-1zM248 660h1v1h-1zM250 661h1v1h-1zM251 663h1v1h-1zM253 665h1v1h-1zM254 666h1v1h-1zM256 668h1v1h-1zM257 669h1v1h-1zM259 671h1v1h-1zM260 673h1v1h-1zM262 674h1v1h-1zM263 676h1v1h-1zM265 677h1v1h-1zM266 679h1v1h-1zM268 680h1v1h-1zM269 682h1v1h-1zM271 684h1v1h-1zM272 685h1v1h-1zM274 687h1v1h-1zM276 688h1v1h-1zM277 690h1v1h-1zM279 691h1v1h-1zM280 693h1v1h-1zM282 695h1v1h-1zM283 696h1v1h-1zM285 698h1v1h-1zM286 699h1v1h-1zM288 700h1v1h-1zM290 701h1v1h-1zM292 701h1v1h-1zM295 701h1v1h-1zM296 699h1v1h-1zM298 698h1v1h-1zM300 697h1v1h-1zM302 696h1v1h-1zM304 695h1v1h-1zM306 694h1v1h-1zM308 693h1v1h-1zM310 693h1v1h-1zM312 693h1v1h-1zM315 694h1v1h-1zM317 693h1v1h-1zM319 693h1v1h-1zM321 691h1v1h-1zM322 690h1v1h-1zM324 688h1v1h-1zM325 687h1v1h-1zM327 685h1v1h-1zM328 683h1v1h-1zM329 682h1v1h-1zM331 680h1v1h-1zM332 678h1v1h-1zM333 676h1v1h-1zM335 675h1v1h-1zM336 673h1v1h-1zM338 672h1v1h-1zM340 670h1v1h-1zM341 669h1v1h-1zM343 667h1v1h-1zM344 666h1v1h-1zM346 664h1v1h-1zM347 662h1v1h-1zM349 661h1v1h-1zM350 659h1v1h-1zM352 657h1v1h-1zM353 656h1v1h-1zM355 654h1v1h-1zM356 652h1v1h-1zM358 651h1v1h-1zM359 649h1v1h-1zM361 648h1v1h-1zM362 646h1v1h-1zM364 645h1v1h-1zM366 644h1v1h-1zM368 643h1v1h-1zM370 643h1v1h-1zM372 643h1v1h-1zM375 644h1v1h-1zM377 644h1v1h-1zM379 646h1v1h-1zM380 647h1v1h-1zM382 648h1v1h-1zM384 650h1v1h-1zM385 651h1v1h-1zM386 653h1v1h-1zM388 655h1v1h-1zM389 657h1v1h-1zM390 659h1v1h-1zM391 660h1v1h-1zM392 662h1v1h-1zM393 664h1v1h-1zM394 666h1v1h-1zM395 668h1v1h-1zM396 670h1v1h-1zM397 672h1v1h-1zM399 674h1v1h-1zM400 676h1v1h-1zM401 678h1v1h-1zM403 679h1v1h-1zM404 681h1v1h-1zM406 682h1v1h-1zM408 683h1v1h-1zM410 684h1v1h-1zM412 685h1v1h-1zM414 686h1v1h-1zM416 687h1v1h-1zM418 687h1v1h-1zM420 687h1v1h-1zM422 688h1v1h-1zM425 688h1v1h-1zM427 687h1v1h-1zM429 687h1v1h-1zM431 687h1v1h-1zM433 687h1v1h-1zM435 686h1v1h-1zM437 685h1v1h-1zM439 684h1v1h-1zM441 683h1v1h-1zM443 683h1v1h-1zM445 684h1v1h-1zM447 686h1v1h-1zM448 687h1v1h-1zM450 689h1v1h-1zM451 691h1v1h-1zM452 692h1v1h-1zM454 694h1v1h-1zM455 696h1v1h-1zM456 698h1v1h-1zM458 699h1v1h-1zM459 701h1v1h-1zM460 703h1v1h-1zM461 705h1v1h-1zM462 707h1v1h-1zM463 709h1v1h-1zM463 711h1v1h-1zM464 713h1v1h-1zM465 715h1v1h-1zM466 717h1v1h-1zM467 719h1v1h-1zM468 721h1v1h-1zM469 723h1v1h-1zM471 725h1v1h-1zM473 726h1v1h-1zM475 727h1v1h-1zM477 727h1v1h-1zM479 728h1v1h-1zM481 729h1v1h-1zM483 730h1v1h-1zM485 731h1v1h-1zM487 732h1v1h-1zM489 733h1v1h-1zM491 734h1v1h-1zM493 734h1v1h-1zM495 733h1v1h-1zM497 731h1v1h-1zM498 730h1v1h-1zM499 728h1v1h-1zM501 726h1v1h-1zM502 724h1v1h-1zM503 722h1v1h-1zM504 720h1v1h-1zM505 718h1v1h-1zM506 716h1v1h-1zM507 714h1v1h-1zM508 712h1v1h-1zM509 711h1v1h-1zM510 709h1v1h-1zM511 707h1v1h-1zM512 705h1v1h-1zM513 703h1v1h-1zM514 701h1v1h-1zM515 699h1v1h-1zM516 697h1v1h-1zM516 694h1v1h-1zM517 692h1v1h-1zM518 690h1v1h-1zM518 688h1v1h-1zM519 686h1v1h-1zM520 684h1v1h-1zM520 682h1v1h-1zM521 680h1v1h-1zM522 678h1v1h-1zM523 676h1v1h-1zM524 674h1v1h-1zM525 672h1v1h-1zM526 670h1v1h-1zM528 668h1v1h-1zM529 667h1v1h-1zM530 665h1v1h-1zM532 663h1v1h-1zM533 662h1v1h-1zM535 660h1v1h-1zM536 658h1v1h-1zM538 657h1v1h-1zM540 656h1v1h-1zM542 655h1v1h-1zM544 654h1v1h-1zM546 653h1v1h-1zM548 654h1v1h-1zM550 655h1v1h-1zM552 656h1v1h-1zM553 658h1v1h-1zM555 660h1v1h-1zM556 661h1v1h-1zM558 663h1v1h-1zM559 664h1v1h-1zM561 666h1v1h-1zM562 668h1v1h-1zM563 670h1v1h-1zM564 671h1v1h-1zM566 673h1v1h-1zM567 675h1v1h-1zM569 676h1v1h-1zM571 676h1v1h-1zM573 675h1v1h-1zM575 674h1v1h-1zM577 673h1v1h-1zM579 671h1v1h-1zM580 670h1v1h-1zM582 669h1v1h-1zM584 667h1v1h-1zM585 666h1v1h-1zM587 664h1v1h-1zM588 663h1v1h-1zM590 661h1v1h-1zM592 660h1v1h-1zM594 659h1v1h-1zM596 659h1v1h-1zM598 659h1v1h-1zM600 659h1v1h-1zM602 660h1v1h-1zM604 660h1v1h-1zM607 661h1v1h-1zM608 662h1v1h-1zM610 664h1v1h-1zM612 665h1v1h-1zM614 666h1v1h-1zM615 668h1v1h-1zM617 669h1v1h-1zM619 671h1v1h-1zM621 672h1v1h-1zM623 672h1v1h-1zM625 671h1v1h-1zM626 669h1v1h-1zM628 667h1v1h-1zM629 666h1v1h-1zM631 664h1v1h-1zM633 663h1v1h-1zM634 661h1v1h-1zM636 660h1v1h-1zM637 658h1v1h-1zM639 657h1v1h-1zM641 655h1v1h-1zM642 654h1v1h-1zM644 653h1v1h-1zM646 651h1v1h-1zM648 650h1v1h-1zM650 649h1v1h-1zM652 649h1v1h-1zM653 650h1v1h-1zM654 652h1v1h-1zM655 654h1v1h-1zM656 657h1v1h-1zM657 659h1v1h-1zM658 661h1v1h-1zM659 663h1v1h-1zM660 664h1v1h-1zM662 666h1v1h-1zM663 667h1v1h-1zM665 668h1v1h-1zM667 669h1v1h-1zM669 671h1v1h-1zM670 672h1v1h-1zM672 674h1v1h-1zM673 676h1v1h-1zM674 678h1v1h-1zM675 680h1v1h-1zM676 682h1v1h-1zM677 684h1v1h-1zM678 685h1v1h-1zM680 687h1v1h-1zM681 689h1v1h-1zM682 691h1v1h-1zM683 693h1v1h-1zM684 695h1v1h-1zM685 697h1v1h-1zM686 699h1v1h-1zM687 701h1v1h-1zM689 702h1v1h-1zM691 703h1v1h-1zM693 703h1v1h-1zM695 701h1v1h-1zM697 700h1v1h-1zM698 698h1v1h-1zM700 697h1v1h-1zM702 696h1v1h-1zM704 694h1v1h-1zM705 693h1v1h-1zM707 692h1v1h-1zM709 690h1v1h-1zM711 689h1v1h-1zM712 688h1v1h-1zM714 687h1v1h-1zM716 685h1v1h-1zM718 684h1v1h-1zM720 683h1v1h-1zM721 681h1v1h-1zM723 680h1v1h-1zM725 679h1v1h-1zM727 678h1v1h-1zM729 676h1v1h-1zM730 675h1v1h-1zM732 674h1v1h-1zM734 673h1v1h-1zM736 672h1v1h-1zM738 671h1v1h-1zM740 670h1v1h-1zM742 669h1v1h-1zM744 669h1v1h-1zM746 668h1v1h-1zM749 668h1v1h-1zM751 667h1v1h-1zM753 666h1v1h-1zM755 666h1v1h-1zM757 665h1v1h-1zM759 665h1v1h-1zM761 664h1v1h-1zM763 663h1v1h-1zM765 663h1v1h-1zM768 662h1v1h-1zM770 662h1v1h-1zM772 661h1v1h-1zM774 661h1v1h-1zM776 662h1v1h-1zM779 662h1v1h-1zM781 663h1v1h-1zM783 663h1v1h-1zM785 664h1v1h-1zM787 665h1v1h-1zM789 665h1v1h-1zM791 666h1v1h-1zM793 667h1v1h-1zM795 668h1v1h-1zM797 668h1v1h-1zM799 669h1v1h-1zM801 670h1v1h-1zM803 671h1v1h-1zM805 671h1v1h-1zM808 672h1v1h-1zM810 673h1v1h-1zM812 674h1v1h-1zM814 674h1v1h-1zM816 675h1v1h-1zM818 676h1v1h-1zM820 676h1v1h-1zM822 676h1v1h-1zM824 676h1v1h-1zM826 675h1v1h-1zM829 674h1v1h-1zM831 674h1v1h-1zM833 673h1v1h-1zM835 673h1v1h-1zM837 673h1v1h-1zM839 673h1v1h-1zM841 673h1v1h-1zM844 673h1v1h-1zM846 673h1v1h-1zM848 674h1v1h-1zM850 674h1v1h-1zM852 675h1v1h-1zM854 676h1v1h-1zM856 677h1v1h-1zM858 678h1v1h-1zM860 679h1v1h-1zM862 680h1v1h-1zM864 681h1v1h-1zM866 682h1v1h-1zM868 683h1v1h-1zM870 685h1v1h-1zM871 686h1v1h-1zM873 687h1v1h-1zM875 688h1v1h-1zM877 689h1v1h-1zM879 690h1v1h-1zM881 690h1v1h-1zM883 691h1v1h-1zM886 690h1v1h-1zM888 689h1v1h-1zM889 688h1v1h-1zM891 687h1v1h-1zM893 686h1v1h-1zM895 685h1v1h-1zM897 684h1v1h-1zM899 682h1v1h-1zM901 681h1v1h-1zM902 680h1v1h-1zM904 679h1v1h-1zM906 678h1v1h-1zM908 677h1v1h-1zM910 676h1v1h-1zM912 675h1v1h-1zM914 674h1v1h-1zM916 673h1v1h-1zM918 672h1v1h-1zM920 671h1v1h-1zM922 670h1v1h-1zM924 669h1v1h-1zM926 668h1v1h-1zM928 667h1v1h-1zM930 666h1v1h-1zM932 665h1v1h-1zM934 664h1v1h-1zM936 663h1v1h-1zM938 662h1v1h-1zM940 661h1v1h-1zM942 661h1v1h-1zM944 661h1v1h-1zM946 661h1v1h-1zM948 661h1v1h-1zM951 661h1v1h-1zM953 661h1v1h-1zM955 661h1v1h-1zM957 661h1v1h-1zM959 661h1v1h-1zM962 661h1v1h-1zM964 661h1v1h-1zM966 661h1v1h-1zM968 661h1v1h-1zM970 660h1v1h-1zM972 659h1v1h-1zM974 658h1v1h-1zM976 657h1v1h-1zM978 656h1v1h-1zM980 655h1v1h-1zM982 654h1v1h-1zM984 653h1v1h-1zM986 653h1v1h-1zM988 653h1v1h-1zM990 653h1v1h-1zM993 653h1v1h-1zM995 654h1v1h-1zM997 654h1v1h-1zM999 655h1v1h-1zM1001 655h1v1h-1zM1003 656h1v1h-1zM1005 657h1v1h-1zM1007 658h1v1h-1zM1009 659h1v1h-1zM1011 660h1v1h-1zM1013 661h1v1h-1zM1015 662h1v1h-1zM1016 664h1v1h-1zM1018 665h1v1h-1zM1020 667h1v1h-1zM1021 668h1v1h-1zM1023 669h1v1h-1zM1025 671h1v1h-1zM1027 672h1v1h-1zM1028 673h1v1h-1zM1030 674h1v1h-1zM1033 674h1v1h-1zM1035 674h1v1h-1zM1037 673h1v1h-1zM1039 672h1v1h-1zM1040 671h1v1h-1zM1042 670h1v1h-1zM1044 669h1v1h-1zM1046 668h1v1h-1zM1048 667h1v1h-1zM1050 666h1v1h-1zM1052 665h1v1h-1zM1054 664h1v1h-1zM1056 663h1v1h-1zM1058 662h1v1h-1zM1060 661h1v1h-1zM1062 660h1v1h-1zM1064 659h1v1h-1zM1066 658h1v1h-1zM1068 657h1v1h-1zM1070 656h1v1h-1zM1072 655h1v1h-1zM1074 654h1v1h-1zM1076 653h1v1h-1zM1078 652h1v1h-1zM1080 651h1v1h-1zM1082 650h1v1h-1zM1084 649h1v1h-1zM1086 649h1v1h-1zM1088 648h1v1h-1zM1090 647h1v1h-1zM1092 647h1v1h-1zM1094 646h1v1h-1zM1097 646h1v1h-1zM1099 645h1v1h-1zM1101 645h1v1h-1zM1103 644h1v1h-1zM1105 644h1v1h-1zM1107 643h1v1h-1zM1109 643h1v1h-1zM1111 642h1v1h-1zM1113 641h1v1h-1zM1116 641h1v1h-1zM1118 640h1v1h-1zM1120 640h1v1h-1zM1122 640h1v1h-1zM1124 641h1v1h-1zM1126 642h1v1h-1zM1128 643h1v1h-1zM1130 644h1v1h-1zM1132 645h1v1h-1zM1134 646h1v1h-1zM1136 648h1v1h-1zM1137 649h1v1h-1zM1139 650h1v1h-1zM1141 651h1v1h-1zM1143 653h1v1h-1zM1145 654h1v1h-1zM1147 655h1v1h-1zM1148 656h1v1h-1zM1150 657h1v1h-1zM1152 658h1v1h-1zM1154 660h1v1h-1zM1156 661h1v1h-1zM1158 662h1v1h-1zM1160 663h1v1h-1zM1162 664h1v1h-1zM1164 664h1v1h-1zM1166 664h1v1h-1zM1168 664h1v1h-1zM1170 664h1v1h-1zM1172 663h1v1h-1zM1174 662h1v1h-1zM1176 661h1v1h-1zM1178 661h1v1h-1zM1180 660h1v1h-1zM1183 659h1v1h-1zM1185 658h1v1h-1zM1187 657h1v1h-1zM1188 656h1v1h-1zM1190 655h1v1h-1zM1193 654h1v1h-1zM1195 653h1v1h-1zM1197 653h1v1h-1zM1199 652h1v1h-1zM1201 651h1v1h-1zM1203 651h1v1h-1zM1205 651h1v1h-1zM1207 651h1v1h-1zM1209 652h1v1h-1zM1211 653h1v1h-1zM1213 654h1v1h-1zM1215 655h1v1h-1zM1217 656h1v1h-1zM1219 658h1v1h-1zM1220 659h1v1h-1zM1222 661h1v1h-1zM1223 663h1v1h-1zM1225 664h1v1h-1zM1226 666h1v1h-1zM1227 668h1v1h-1zM1229 669h1v1h-1zM1231 671h1v1h-1zM1232 672h1v1h-1zM1234 674h1v1h-1zM1236 675h1v1h-1zM1238 676h1v1h-1zM1240 676h1v1h-1zM1242 675h1v1h-1zM1243 673h1v1h-1zM1245 672h1v1h-1zM1247 670h1v1h-1zM1248 669h1v1h-1zM1250 667h1v1h-1zM1251 666h1v1h-1zM1253 665h1v1h-1zM1255 663h1v1h-1zM1257 662h1v1h-1zM1259 661h1v1h-1zM1261 660h1v1h-1zM1263 659h1v1h-1zM1265 658h1v1h-1zM1267 658h1v1h-1zM1269 658h1v1h-1zM1271 658h1v1h-1zM1273 659h1v1h-1zM1275 660h1v1h-1zM1277 661h1v1h-1zM1279 663h1v1h-1zM1281 664h1v1h-1zM1283 665h1v1h-1zM1284 666h1v1h-1zM1286 667h1v1h-1zM1288 668h1v1h-1zM1290 669h1v1h-1zM1292 670h1v1h-1zM1294 671h1v1h-1zM1296 672h1v1h-1zM1298 674h1v1h-1zM1300 675h1v1h-1zM1302 676h1v1h-1zM1303 677h1v1h-1zM1305 679h1v1h-1zM1306 680h1v1h-1zM1308 682h1v1h-1zM1310 684h1v1h-1zM1311 685h1v1h-1zM1313 686h1v1h-1zM1315 687h1v1h-1zM1317 686h1v1h-1zM1319 685h1v1h-1zM1321 684h1v1h-1zM1323 683h1v1h-1zM1325 682h1v1h-1zM1327 682h1v1h-1zM1329 684h1v1h-1zM1330 685h1v1h-1zM1331 687h1v1h-1zM1333 689h1v1h-1zM1334 691h1v1h-1zM1335 693h1v1h-1zM1337 694h1v1h-1zM1338 696h1v1h-1zM1340 697h1v1h-1zM1342 698h1v1h-1zM1343 696h1v1h-1zM1345 695h1v1h-1zM1346 693h1v1h-1zM1346 691h1v1h-1zM1347 689h1v1h-1zM1348 686h1v1h-1zM1349 684h1v1h-1zM1349 682h1v1h-1zM1350 680h1v1h-1zM1351 678h1v1h-1zM1352 676h1v1h-1zM1352 674h1v1h-1zM1353 672h1v1h-1zM1354 670h1v1h-1zM1354 668h1v1h-1zM1355 666h1v1h-1zM1356 664h1v1h-1zM1356 661h1v1h-1zM1357 659h1v1h-1zM1358 657h1v1h-1zM1358 655h1v1h-1zM1359 653h1v1h-1zM1360 651h1v1h-1zM1361 649h1v1h-1zM1362 647h1v1h-1zM1362 645h1v1h-1zM1363 643h1v1h-1zM1365 641h1v1h-1zM1366 639h1v1h-1zM1367 638h1v1h-1zM1369 636h1v1h-1zM1371 635h1v1h-1zM1373 634h1v1h-1zM1375 635h1v1h-1zM1377 635h1v1h-1zM1379 637h1v1h-1zM1380 638h1v1h-1zM1382 639h1v1h-1zM1384 641h1v1h-1zM1385 642h1v1h-1zM1387 644h1v1h-1zM1388 645h1v1h-1zM1390 647h1v1h-1zM1392 648h1v1h-1zM1393 650h1v1h-1zM1395 652h1v1h-1zM1396 653h1v1h-1zM1398 654h1v1h-1zM1400 656h1v1h-1zM1402 657h1v1h-1zM1404 658h1v1h-1zM1406 658h1v1h-1zM1408 658h1v1h-1zM1410 659h1v1h-1zM1412 659h1v1h-1zM1415 659h1v1h-1zM1417 660h1v1h-1zM1419 660h1v1h-1zM1421 660h1v1h-1zM1423 660h1v1h-1zM1425 661h1v1h-1zM1428 661h1v1h-1zM1430 662h1v1h-1zM1432 662h1v1h-1zM1434 662h1v1h-1zM1436 663h1v1h-1zM1438 664h1v1h-1zM1440 665h1v1h-1zM1442 666h1v1h-1zM1444 667h1v1h-1zM1446 668h1v1h-1zM1447 670h1v1h-1zM1449 671h1v1h-1zM1451 672h1v1h-1zM1453 673h1v1h-1zM1455 673h1v1h-1zM1458 673h1v1h-1zM1460 673h1v1h-1zM1462 673h1v1h-1zM1464 672h1v1h-1zM1466 672h1v1h-1zM1468 672h1v1h-1zM1471 671h1v1h-1zM1473 671h1v1h-1zM1475 670h1v1h-1zM1477 670h1v1h-1z" fill="#0000ff" shape-rendering="crispEdges"/>
<polyline points="6.3,642.2 9.4,640.1 12.6,641 18.8,643.7 26.2,647.3 31.4,646.4 36.6,644.7 41.8,652.1 46,654.8 54.4,656.3 59.6,654.8 65.9,659.8 71.1,647.9 75.3,645.8 87.9,645.8 93.1,639.1 97.3,641 102.5,646.8 108.8,652.1 114,652.1 120.3,656.3 125.5,663.6 133.9,666.7 142.3,668.8 146.4,663.2 152.7,663.2 159,667.3 163.2,667.1 169.5,673 175.7,674.5 179.9,681.4 184.1,680.7 192.5,672 196.7,671.5 201.9,667.1 206.1,671.5 210.3,671.5 215.5,654.2 221.8,642.7 227,635.3 231.2,640.1 236.4,652.1 242.7,660.4 246.9,667.8 251,670.3 256.3,677.2 263.6,678.6 268.8,692.9 276.2,695.4 282.4,700.8 288.7,705.4 292.9,700.2 299.2,696.6 305.4,690.4 311.7,694.5 318,695.4 324.3,690.4 329.5,671.5 334.7,667.1 341,671.5 345.2,669.9 351.5,653.1 358.8,640.1 364,640.1 370.3,643.7 376.6,646.8 382.8,657.3 389.1,664.6 392.3,676.1 395.4,684.5 400,689.7 406.3,688.6 410.5,685.3 415.7,688 420.9,690.7 426.2,687.4 431.4,688 436.6,687 438.7,681.7 442.9,681.7 448.1,690.1 452.3,699.5 455.4,703.7 460.7,718.3 464.9,728.8 468,735.1 474.3,734 479.5,729.8 483.7,731.3 487.9,730.9 492,734 498.3,731.9 502.5,720.4 506.7,704.7 510.9,698.5 514,693.2 517.2,678.6 519.2,666 523.4,657.7 527.6,652.4 532.8,653.9 538.1,650.3 544.4,651.8 548.5,655.6 552.7,665 559,670.2 563.2,679.6 567.4,682.3 571.5,679.6 576.8,669.2 582,663.9 585.1,657.2 592.5,655.6 598.7,663.5 606.1,664.4 611.3,668.5 617.6,674.8 622.8,674.8 628,665 632.2,657.7 638.5,652.4 644.8,646.8 649,646.2 654.2,658.7 658.4,674.8 663.6,674.8 668.8,672.3 672,695.3 676.2,700.5 681.4,703.7 684.5,711 687.7,710.4 692.9,700.5 701.3,692.8 709.6,688 712.8,683.8 718,676.1 724.3,677.5 730.5,671.3 743.1,666 751.5,665.6 759.8,665.6 766.1,662.9 773.4,660.2 780.8,667.1 790.5,668.1 798.8,672.7 805.1,671.3 809.3,675.4 815.6,679.6 821.8,679 830.2,671.3 836.5,672.3 844.9,675.4 852.2,674.8 861.6,681.1 867.9,689 874.1,693.6 882.5,692.2 887.7,690.1 890.9,683.8 900.3,678.2 904.5,671.3 918.1,671.3 924.4,668.1 932.7,660.8 939,659.3 947.4,660.2 955.7,660.2 962,662.9 968.3,659.7 972.5,659.7 980.8,650.3 987.1,648.9 995.5,658.1 1003.8,659.7 1012.2,665 1018.5,672.7 1024.8,674.8 1029,677.5 1037.3,671.3 1044.6,667.1 1050.9,659.1 1058.2,659.1 1066.6,659.7 1070.8,653.9 1077.1,650.3 1084.4,646.2 1092.8,645.5 1094.9,642.6 1098,646.2 1103.2,643 1109.5,640.1 1114.7,641.5 1121,639.2 1125.2,642.6 1131.5,650.3 1137.7,657.2 1144,657.2 1146.1,655.6 1152.4,659.7 1156.6,665 1164.2,666.4 1172.6,661.4 1176.7,660.8 1179.9,656 1185.1,659.7 1193.5,651.8 1201.8,651 1207.1,647.8 1212.3,659.7 1219.6,662.9 1222.8,670.2 1229,674.8 1235.3,679.6 1239.5,676.9 1245.8,673.3 1252,658.7 1260.4,656 1267.7,656.6 1274,659.3 1281.3,667.7 1285.5,674.4 1296,674.8 1302.3,680.7 1310.6,691.5 1319,684.9 1326.3,678.2 1331.5,694.3 1338.9,702.6 1344.1,700.5 1347.2,673.3 1350.4,659.3 1355.6,645.1 1358.7,633.6 1369.2,628 1372.3,630.9 1377.6,637.2 1384.9,650.3 1392.2,658.7 1398.5,661.8 1407.9,662.9 1411,658.1 1419.4,660.8 1423.6,659.7 1432,661.8 1439.3,663.9 1444.5,672.3 1449.7,680 1455,674.4 1461.3,673.3 1467.5,671.9 1473.8,667.1 1478.4,669.2" fill="none" stroke="#ff0000" stroke-width="2" stroke-linejoin="round"/>
<text x="1580" y="682.8" class="lb" fill="#000080" textLength="56" lengthAdjust="spacingAndGlyphs">MACD</text>
<text x="3.5" y="758.5" class="hd" fill="#2a2ae8" textLength="65.9" lengthAdjust="spacingAndGlyphs">Vol_NHH.MC</text>
<text x="74.2" y="758.5" class="hd" fill="#2a2ae8" textLength="62" lengthAdjust="spacingAndGlyphs">Vol: 188.995</text>
<text x="141.5" y="758.5" class="hd" fill="#ff0000" textLength="59.1" lengthAdjust="spacingAndGlyphs">P: 8.714.503</text>
<path d="M5 903V762H6.9V762H8.7V824.4H10.6V762H12.5V762H14.3V774.1H16.2V816.1H18.1V802.7H19.9V826.4H21.8V808.8H23.7V789.7H25.5V816.9H27.4V762H29.3V762H31.1V831H33V801H34.9V785.1H36.7V803.6H38.6V838.9H40.5V845.4H42.3V794.6H44.2V811.3H46.1V815.3H47.9V850.5H49.8V801.5H51.7V788.4H53.5V823.1H55.4V782H57.3V762H59.2V861.7H61V784.4H62.9V848.2H64.8V852.1H66.6V817.4H68.5V778.8H70.4V799.1H72.2V841.7H74.1V848.9H76V824.8H77.8V803.4H79.7V833.3H81.6V850.4H83.4V762H85.3V833H87.2V812.8H89V829.8H90.9V834H92.8V816.6H94.6V831.7H96.5V798.5H98.4V854.1H100.2V859.4H102.1V762H104V822.6H105.8V791.1H107.7V773.9H109.6V808H111.4V825.1H113.3V862.4H115.2V862.1H117V775.8H118.9V788.2H120.8V790.6H122.6V856.7H124.5V861.4H126.4V831.3H128.2V833.5H130.1V778H132V827.2H133.8V762H135.7V813.6H137.6V811.5H139.4V762H141.3V767.2H143.2V821.6H145V762H146.9V762H148.8V830.7H150.6V793.5H152.5V827H154.4V851.2H156.3V762H158.1V762H160V762H161.9V779.8H163.7V863.2H165.6V811H167.5V834.3H169.3V848.6H171.2V847.8H173.1V778.4H174.9V823.7H176.8V762H178.7V791H180.5V862.5H182.4V767H184.3V762H186.1V809.9H188V848.6H189.9V762H191.7V851.2H193.6V816.2H195.5V864H197.3V852.4H199.2V861.9H201.1V766.7H202.9V762H204.8V830.5H206.7V854.5H208.5V817.5H210.4V798.8H212.3V857.8H214.1V850.8H216V821.8H217.9V789.5H219.7V817.8H221.6V803.4H223.5V854.8H225.3V874.4H227.2V808.1H229.1V848.1H230.9V826.8H232.8V835.8H234.7V807.1H236.5V848.1H238.4V762H240.3V827.8H242.1V811.1H244V808.6H245.9V792.1H247.7V818.9H249.6V869H251.5V846.7H253.4V762H255.2V808.1H257.1V802.2H259V805.2H260.8V842.1H262.7V842.7H264.6V841.4H266.4V766.9H268.3V805.8H270.2V762H272V798.1H273.9V762H275.8V798.1H277.6V853H279.5V762H281.4V812.5H283.2V776.1H285.1V823H287V841.7H288.8V828.6H290.7V861.4H292.6V863.6H294.4V859.1H296.3V852.9H298.2V868.8H300V845.1H301.9V833.7H303.8V762H305.6V766.5H307.5V842.9H309.4V812.5H311.2V846.1H313.1V827.3H315V838.8H316.8V850.5H318.7V833.1H320.6V866.4H322.4V813.5H324.3V833.9H326.2V851.2H328V828.2H329.9V791.1H331.8V837.6H333.6V794.4H335.5V789.6H337.4V762H339.2V847.8H341.1V818.4H343V792.3H344.8V762H346.7V804.7H348.6V781.6H350.5V857.2H352.3V835.9H354.2V762H356.1V826.2H357.9V762H359.8V839.4H361.7V825.4H363.5V861.1H365.4V798.9H367.3V820.3H369.1V762H371V821.4H372.9V833.8H374.7V860.5H376.6V826.1H378.5V781.1H380.3V792H382.2V766H384.1V786.6H385.9V825.3H387.8V799.9H389.7V818H391.5V859.1H393.4V762H395.3V811.6H397.1V854.5H399V812.8H400.9V817.4H402.7V787.2H404.6V763.2H406.5V882H408.3V810.3H410.2V763.8H412.1V857.8H413.9V873.6H415.8V831.4H417.7V832.6H419.5V835.1H421.4V868.6H423.3V858.7H425.1V844.5H427V829.2H428.9V764.7H430.7V843.6H432.6V863.2H434.5V884.5H436.3V819.9H438.2V852.4H440.1V850.3H441.9V866H443.8V822.1H445.7V875.3H447.6V838H449.4V834.9H451.3V825.4H453.2V776H455V831.4H456.9V821.5H458.8V783.9H460.6V860.8H462.5V828.2H464.4V813.7H466.2V768.1H468.1V835.7H470V762H471.8V773.5H473.7V842.8H475.6V839.7H477.4V836.2H479.3V764.7H481.2V762H483V762H484.9V762H486.8V791H488.6V762H490.5V762H492.4V762H494.2V762H496.1V822.1H498V762H499.8V814.6H501.7V823H503.6V790.5H505.4V768.5H507.3V786H509.2V805.2H511V833.5H512.9V789.8H514.8V830.6H516.6V850.1H518.5V802H520.4V762H522.2V824.4H524.1V845.1H526V762H527.8V762H529.7V827.7H531.6V827.2H533.4V814.4H535.3V762H537.2V821.1H539V782.7H540.9V808.4H542.8V867.9H544.6V855.3H546.5V859.2H548.4V814.3H550.3V828.5H552.1V762H554V843.7H555.9V826.4H557.7V833.3H559.6V830.6H561.5V762H563.3V824.3H565.2V768.9H567.1V780.4H568.9V850.9H570.8V811.9H572.7V846.9H574.5V834.2H576.4V833H578.3V836.9H580.1V849.6H582V771.6H583.9V844.2H585.7V812.5H587.6V763.7H589.5V816H591.3V799.5H593.2V781.8H595.1V797.2H596.9V764H598.8V868.9H600.7V762H602.5V840.5H604.4V873.9H606.3V854.9H608.1V867.8H610V837.4H611.9V868H613.7V859.7H615.6V826.1H617.5V830.6H619.3V855.5H621.2V840.5H623.1V834.2H624.9V826.1H626.8V826.3H628.7V830.7H630.5V780.5H632.4V860.7H634.3V831.4H636.1V806.3H638V827H639.9V832.1H641.7V828.6H643.6V803.7H645.5V762H647.4V811H649.2V808.9H651.1V768.1H653V791.4H654.8V847.3H656.7V762H658.6V782.7H660.4V788.7H662.3V762H664.2V762H666V788.3H667.9V846.9H669.8V834.4H671.6V762H673.5V762.9H675.4V762H677.2V762H679.1V790.5H681V826.9H682.8V824.4H684.7V788.2H686.6V833.2H688.4V762H690.3V846.8H692.2V861H694V821.7H695.9V862.7H697.8V762H699.6V848.1H701.5V823H703.4V832.6H705.2V849.6H707.1V868.4H709V870.4H710.8V796.6H712.7V791.2H714.6V762H716.4V866.9H718.3V815.8H720.2V836.3H722V806.6H723.9V850.9H725.8V814.1H727.6V808.1H729.5V820.7H731.4V785H733.2V847H735.1V787.3H737V861.9H738.8V790.3H740.7V887.3H742.6V852.7H744.5V869H746.3V856.4H748.2V831.5H750.1V836.4H751.9V849.2H753.8V786.5H755.7V872.8H757.5V862.3H759.4V788.6H761.3V835.1H763.1V879.2H765V834.2H766.9V867.8H768.7V788H770.6V803.4H772.5V855.7H774.3V795.5H776.2V860.9H778.1V810.4H779.9V822.3H781.8V843.2H783.7V868.7H785.5V845.6H787.4V879.8H789.3V855.5H791.1V877H793V805H794.9V865.3H796.7V882.8H798.6V826.6H800.5V832.8H802.3V854.8H804.2V762H806.1V815.8H807.9V838.4H809.8V855.2H811.7V884.7H813.5V825.4H815.4V808.2H817.3V856H819.1V870.7H821V844.7H822.9V875.2H824.7V846.4H826.6V825.7H828.5V798.5H830.3V844.6H832.2V847.3H834.1V831.4H835.9V806.7H837.8V857.7H839.7V872.4H841.6V865.7H843.4V872.4H845.3V866.8H847.2V852.2H849V840.4H850.9V845.2H852.8V847.2H854.6V856.6H856.5V837.3H858.4V822.2H860.2V826.6H862.1V796.9H864V855H865.8V854.2H867.7V787.2H869.6V843.4H871.4V838.3H873.3V858.8H875.2V828.2H877V863.2H878.9V872.4H880.8V856.6H882.6V863.6H884.5V834H886.4V863H888.2V853.7H890.1V861H892V849.9H893.8V868.7H895.7V829.1H897.6V878.4H899.4V864H901.3V868.8H903.2V840.4H905V854.7H906.9V843.6H908.8V861.1H910.6V867.3H912.5V872.7H914.4V859.9H916.2V863.1H918.1V845.2H920V842H921.8V821H923.7V851.3H925.6V863.2H927.4V867.7H929.3V844.4H931.2V835.9H933V766.5H934.9V840.6H936.8V776.8H938.7V769.6H940.5V866.3H942.4V803.1H944.3V806H946.1V796.7H948V844.8H949.9V813.8H951.7V855.8H953.6V846.5H955.5V844.5H957.3V775.6H959.2V850.9H961.1V816.1H962.9V844.8H964.8V861.9H966.7V840.9H968.5V826.3H970.4V860.1H972.3V823.3H974.1V858H976V860.2H977.9V830.9H979.7V841.8H981.6V857.4H983.5V868.4H985.3V831.3H987.2V823.9H989.1V845H990.9V825.7H992.8V866.7H994.7V818.2H996.5V817.1H998.4V821.9H1000.3V848.2H1002.1V828.2H1004V826.2H1005.9V786H1007.7V822H1009.6V825.5H1011.5V854.5H1013.3V808.6H1015.2V798.5H1017.1V853.2H1018.9V821.1H1020.8V832.5H1022.7V842.9H1024.5V868H1026.4V766.5H1028.3V875.1H1030.1V829.8H1032V848.2H1033.9V794H1035.7V848.7H1037.6V836.7H1039.5V818.2H1041.4V824.3H1043.2V852.2H1045.1V817.2H1047V827.3H1048.8V803.7H1050.7V851.6H1052.6V839.4H1054.4V848.1H1056.3V857.6H1058.2V829.5H1060V824.6H1061.9V780.5H1063.8V846.7H1065.6V826.1H1067.5V795.8H1069.4V840.8H1071.2V834.5H1073.1V831.1H1075V852.2H1076.8V857.4H1078.7V783.4H1080.6V821.8H1082.4V827.9H1084.3V858H1086.2V821.7H1088V774.4H1089.9V857.4H1091.8V852.4H1093.6V780.7H1095.5V762H1097.4V762H1099.2V843.4H1101.1V803.2H1103V847.8H1104.8V807.8H1106.7V841.1H1108.6V826.8H1110.4V781.5H1112.3V828.3H1114.2V846.6H1116V840.5H1117.9V836.3H1119.8V857H1121.6V841.7H1123.5V832H1125.4V795.3H1127.2V881.1H1129.1V871.3H1131V872.2H1132.8V826H1134.7V762H1136.6V846.6H1138.5V848.6H1140.3V818.2H1142.2V885.2H1144.1V855.9H1145.9V888.3H1147.8V849.8H1149.7V863.9H1151.5V864.1H1153.4V848.2H1155.3V867.1H1157.1V827.7H1159V855.5H1160.9V845.2H1162.7V762H1164.6V860.6H1166.5V823.4H1168.3V865.2H1170.2V806.6H1172.1V817.2H1173.9V842.8H1175.8V814.8H1177.7V786.2H1179.5V796.8H1181.4V844.7H1183.3V844.9H1185.1V804H1187V870.3H1188.9V854.4H1190.7V823.1H1192.6V818.5H1194.5V762H1196.3V765.6H1198.2V831.6H1200.1V829.3H1201.9V869.6H1203.8V849.3H1205.7V838.7H1207.5V851.8H1209.4V845.8H1211.3V831.4H1213.1V867.3H1215V861.5H1216.9V878.8H1218.7V817.1H1220.6V870.2H1222.5V878.2H1224.3V830.6H1226.2V856.1H1228.1V824.5H1229.9V859.3H1231.8V772.1H1233.7V831.8H1235.6V846.6H1237.4V847.4H1239.3V856.2H1241.2V832.5H1243V788.1H1244.9V864.6H1246.8V873.8H1248.6V840.8H1250.5V824.6H1252.4V876.6H1254.2V864.9H1256.1V868.8H1258V834.1H1259.8V835.3H1261.7V864H1263.6V870.5H1265.4V832.4H1267.3V881.7H1269.2V835.3H1271V855.9H1272.9V787.9H1274.8V827.5H1276.6V865.6H1278.5V861H1280.4V861.7H1282.2V868.4H1284.1V851.5H1286V823.9H1287.8V874.8H1289.7V851.9H1291.6V790.2H1293.4V821.5H1295.3V862.3H1297.2V862.9H1299V864.4H1300.9V875.6H1302.8V814H1304.6V848.5H1306.5V864.3H1308.4V873.8H1310.2V855.5H1312.1V856.6H1314V775.9H1315.8V852.5H1317.7V836.2H1319.6V798.5H1321.4V807.2H1323.3V829.9H1325.2V869.4H1327V762H1328.9V782.2H1330.8V824.1H1332.7V808.4H1334.5V836.3H1336.4V832.7H1338.3V847H1340.1V767.5H1342V767.4H1343.9V787.1H1345.7V762H1347.6V768.9H1349.5V793.4H1351.3V833.9H1353.2V774.3H1355.1V762H1356.9V778.1H1358.8V762H1360.7V830H1362.5V849.7H1364.4V785.5H1366.3V856.7H1368.1V846H1370V863.3H1371.9V862.8H1373.7V870.4H1375.6V876.5H1377.5V888.8H1379.3V837.1H1381.2V870.9H1383.1V889.7H1384.9V882.4H1386.8V883.7H1388.7V878.5H1390.5V890.6H1392.4V853.4H1394.3V819H1396.1V864.8H1398V843.6H1399.9V846.3H1401.7V877H1403.6V826.7H1405.5V880.8H1407.3V866.9H1409.2V862.8H1411.1V821H1412.9V852.3H1414.8V856.8H1416.7V868.1H1418.5V850.4H1420.4V850.1H1422.3V829.7H1424.1V803.7H1426V833.1H1427.9V855.2H1429.8V859.1H1431.6V809.3H1433.5V852.2H1435.4V856.8H1437.2V801.9H1439.1V811.7H1441V844.1H1442.8V859.3H1444.7V868.3H1446.6V831.1H1448.4V865.9H1450.3V835H1452.2V871.1H1454V856.8H1455.9V851.1H1457.8V857.2H1459.6V855.8H1461.5V852.7H1463.4V876.6H1465.2V876.4H1467.1V862.9H1469V809.7H1470.8V862.5H1472.7V874.3H1474.6V870.8H1476.4V859.7H1478.3V888H1480.2V903Z" fill="#0000ff" shape-rendering="crispEdges"/>
<svg x="0" y="762" width="1822" height="141" viewBox="0 762 1822 141" overflow="hidden">
<polyline points="6.5,831.6 20.9,827.9 52.3,827.7 78.5,825.8 104.6,824 130.7,823.7 146.4,819.3 183,817.5 209.2,817 235.4,816.2 261.5,818 287.7,815.9 313.8,817.5 366.1,817.5 392.3,817 418.4,818 444.6,819.8 470.7,819.3 480,818.5 498.3,813.3 532.3,812.2 558.5,813.3 584.6,814.1 610.8,815.4 636.9,814.9 663.1,814.1 678.7,809.6 689.2,807.5 715.4,809.6 741.5,811.5 767.7,814.1 793.8,815.4 820,816.7 846.1,818.5 872.3,820.1 898.4,821.9 924.6,823.7 950.7,824.5 980,825.8 1001.6,824.8 1043.1,826.2 1098.6,825.4 1154,828.2 1209.4,829.8 1264.9,831.8 1320.3,833.1 1342.5,833.1 1348,829.5 1375.7,830.4 1403.5,832.6 1431.2,833.1 1458.9,834.5 1478.3,836.5" fill="none" stroke="#ff0000" stroke-width="1.7" stroke-linejoin="round"/>
<polyline points="6.5,778.2 11.8,768.3 13.6,761 20,745 26,745 28.8,778.8 39.2,791.8 47.1,795.8 53.6,807.5 57.5,824.5 65.4,825.8 70.6,815.4 75.8,799.7 83.7,803.6 90.2,790.5 96.8,793.9 104.6,791.3 115.1,815.4 122.9,810.1 129.4,820.6 141.2,804.9 146.4,776.2 151.7,773 159.5,774.8 166.1,766.2 172.6,769.6 179.1,776.2 183,798.4 190.9,804.9 201.4,801 211.8,802.3 219.7,809.6 230.1,805.4 240.6,812.8 245.8,810.7 256.3,818.5 266.7,825.8 277.2,815.4 285,812.8 295.5,808.1 306,824.5 319,836.3 329.5,835 340,827.1 347.8,806.2 360.9,804.9 371.3,807.5 381.8,806.2 387,821.9 397.5,814.1 413.2,816.7 428.9,823.2 441.9,842.8 455,846.8 468.1,833.7 478.5,812.8 486.4,804.9 487.8,797.1 494.4,770.9 498.3,761 505,745 518,745 524.5,761 529.7,781.4 534.9,793.1 545.4,802.3 555.8,818 563.7,816.7 574.1,829.8 584.6,825.8 595.1,831.1 605.5,829.8 616,831.1 622.5,835 631.7,828.5 639.5,828.5 647.4,816.7 655.2,802.3 663.1,803.6 668.3,789.2 673.5,761 680,740 696,740 702.3,761 707.5,778.8 712.7,804.9 718,806.2 723.2,816.7 733.7,825.8 741.5,829.8 752,835 759.8,845.4 767.7,853.3 775.5,838.9 786,837.6 796.4,835.8 805.6,831.1 812.1,840.2 822.6,836.3 830.4,832.4 840.9,837.6 851.3,846.8 864.4,844.1 877.5,842.8 890.6,842.8 895.8,850.7 903.6,850.2 914.1,853.3 924.6,850.7 937.6,846.8 948.1,840.2 963.8,838.4 973.9,838.7 986.3,841.5 996,833.1 1001.6,824.8 1015.4,824.3 1026.5,822.6 1034.8,834.5 1043.1,835.4 1054.2,830.4 1065.3,833.1 1076.4,830.4 1087.5,831.8 1095.8,826.2 1102.7,816.5 1112.4,820.7 1123.5,817.9 1131.8,831.8 1142.9,842.8 1154,845.6 1165.1,847 1176.2,852.5 1190,841.5 1201.1,838.7 1212.2,830.4 1223.3,838.7 1237.2,845.6 1251,846.5 1256.6,844.2 1264.9,852.5 1278.7,842.8 1289.8,847 1300.9,852 1312,837.3 1325.8,845.6 1339.7,830.4 1345.3,805.4 1350.8,797.1 1359.1,782.7 1367.4,786 1375.7,797.1 1381.3,805.4 1384,827.6 1389.6,855.3 1397.9,871.4 1406.2,869.2 1414.5,856.7 1425.6,852.5 1436.7,848.4 1443.6,842.8 1447.8,851.2 1458.9,852 1472.7,853.9 1478.3,855.9" fill="none" stroke="#008000" stroke-width="1.7" stroke-linejoin="round"/>
</svg>
<text x="1540.7" y="803.8" class="lb" fill="#ff0000" textLength="175" lengthAdjust="spacingAndGlyphs">MMS (200, volumen)</text>
<text x="1549.8" y="841.8" class="lb" fill="#008000" textLength="165.2" lengthAdjust="spacingAndGlyphs">MMS (20, volumen)</text>
<path d="M82.5 903v9M198.5 903v9M321.5 903v9M441.5 903v9M558.5 903v9M679.5 903v9M801.5 903v9M922.5 903v9M1041.5 903v9M1158.5 903v9M1279.5 903v9M1398.5 903v9M1516.5 903v9M1638.5 903v9M1758.5 903v9" stroke="#0000ff" stroke-width="1" shape-rendering="crispEdges"/>
<svg x="0" y="903" width="1817" height="19" viewBox="0 903 1817 19" overflow="hidden">
<text class="dt" x="84" y="920.3">01-Abr-15</text>
<text class="dt" x="200" y="920.3">01-Jul-15</text>
<text class="dt" x="323" y="920.3">01-Oct-15</text>
<text class="dt" x="443" y="920.3">01-Ene-16</text>
<text class="dt" x="560" y="920.3">01-Abr-16</text>
<text class="dt" x="681" y="920.3">01-Jul-16</text>
<text class="dt" x="803" y="920.3">01-Oct-16</text>
<text class="dt" x="924" y="920.3">01-Ene-17</text>
<text class="dt" x="1043" y="920.3">01-Abr-17</text>
<text class="dt" x="1160" y="920.3">01-Jul-17</text>
<text class="dt" x="1281" y="920.3">01-Oct-17</text>
<text class="dt" x="1400" y="920.3">01-Ene-18</text>
<text class="dt" x="1518" y="920.3">01-Abr-18</text>
<text class="dt" x="1640" y="920.3">01-Jul-18</text>
<text class="dt" x="1760" y="920.3">01-Oct-18</text>
<text class="dt" x="-34" y="920.3">01-Ene-15</text>
</svg>
</svg>
</body></html>
